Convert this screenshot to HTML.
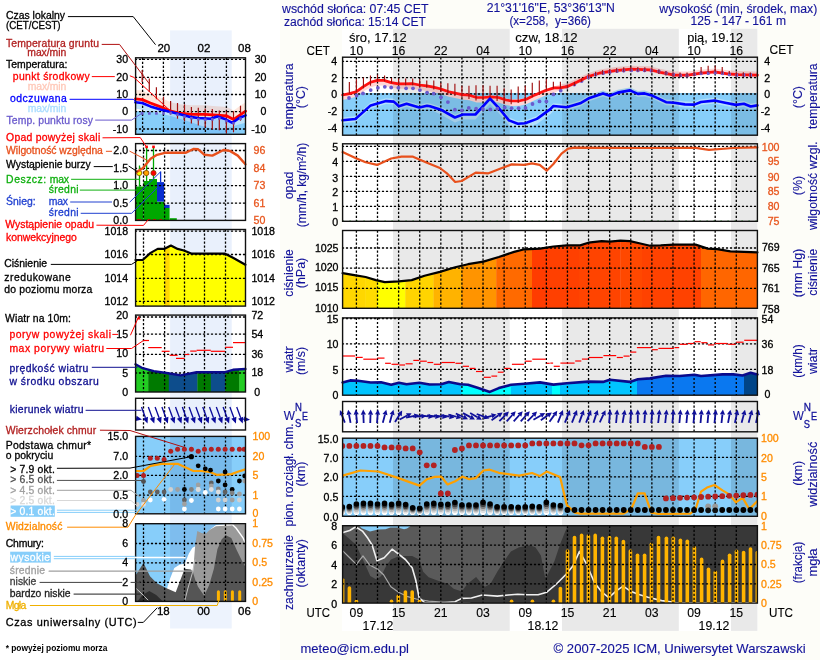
<!DOCTYPE html>
<html><head><meta charset="utf-8"><title>Meteogram</title>
<style>html,body{margin:0;padding:0;background:#fff;}svg{display:block;}text{font-family:"Liberation Sans", Arial, sans-serif;}</style></head>
<body><svg width="820" height="660" viewBox="0 0 820 660">
<rect x="0" y="0" width="820" height="660" fill="#ffffff" />
<rect x="280" y="0" width="540" height="660" fill="#fdfdf8" />
<rect x="342" y="29" width="415.8" height="602" fill="#ffffff" />
<rect x="393" y="28.8" width="116.7" height="602.1" fill="#e9e9e9" />
<rect x="562" y="28.8" width="116.8" height="602.1" fill="#e9e9e9" />
<rect x="731" y="28.8" width="26.4" height="602.1" fill="#e9e9e9" />
<rect x="170.1" y="30.4" width="61.6" height="598.1" fill="#edf3fd" />
<rect x="342.6" y="57.2" width="414.8" height="78" fill="#fff" />
<rect x="342.6" y="93" width="414.8" height="42.2" fill="#87cefa" />
<polygon points="342.6,93.5 349.5,92.1 356.1,90.3 363.4,85.1 370.7,80.7 377.3,78.9 383.9,78.9 391.2,81.1 398.5,82.3 405.9,82.3 412.9,82.2 419.3,83.5 426.6,84.4 433.3,85.6 440,87.2 448.8,90.2 462,93.1 469.3,93.7 476.6,96 483.9,96 490.5,95.3 498.5,96 505.9,98.5 511.7,99.5 519.8,99.3 526.3,97.8 535.1,93.4 545.4,89 554.1,86.4 560,84.4 566.8,83.2 577.6,78.3 588.3,73 599,69.7 615.1,67.1 631.2,65.7 650,66.3 660.7,68.9 674.2,71.6 687.6,71.6 701,69.7 714.4,68.4 727.8,70.3 738.6,71.1 757.4,71.6 757.4,77.1 738.6,76.6 727.8,75.8 714.4,73.9 701,75.2 687.6,77.1 674.2,77.1 660.7,74.4 650,71.8 631.2,71.2 615.1,72.6 599,75.2 588.3,78.5 577.6,83.8 566.8,88.7 560,89.9 554.1,92.9 545.4,95.5 535.1,99.9 526.3,104.3 519.8,105.8 511.7,106 505.9,105 498.5,102.5 490.5,101.8 483.9,102.5 476.6,102.5 469.3,100.2 462,99.6 448.8,96.7 440,93.7 433.3,92.1 426.6,90.9 419.3,90 412.9,88.7 405.9,88.8 398.5,88.8 391.2,87.6 383.9,85.4 377.3,85.4 370.7,87.2 363.4,91.6 356.1,96.8 349.5,98.6 342.6,100" fill="#ffd6d6" />
<polygon points="342.6,117.5 355.4,116.2 370.7,102.6 386.1,98.3 393.8,98.8 398.9,103.4 406.6,100.9 419.4,104.7 427,102.9 430,103.4 441.7,107.3 454.9,114.7 462.9,111.7 475.4,111.7 490,95.9 498.8,105.2 509,117.6 517.8,121 525.2,120.5 536.9,116.1 550,106.6 553.4,103.2 566.8,104.5 580.2,100.5 589.6,95.1 603,90.6 609.8,93 617.8,89.8 629.9,87.6 637.9,91.1 644.6,90.6 652.7,93 666.1,99.4 674.2,100 684.9,101.6 694.3,101.8 701,99.2 714.4,97.8 725.1,100 735.9,102.1 743.9,101 750.6,103.7 757.4,102.6 757.4,108.4 750.6,109.5 743.9,106.8 735.9,107.9 725.1,105.8 714.4,103.6 701,105 694.3,107.6 684.9,107.4 674.2,105.8 666.1,105.2 652.7,98.8 644.6,96.4 637.9,96.9 629.9,93.4 617.8,95.6 609.8,98.8 603,96.4 589.6,100.9 580.2,106.3 566.8,110.3 553.4,111 550,114.4 536.9,123.9 525.2,128.3 517.8,128.8 509,125.4 498.8,113 490,103.7 475.4,119.5 462.9,119.5 454.9,122.5 441.7,115.1 430,109.2 427,108.7 419.4,110.5 406.6,106.7 398.9,109.2 393.8,104.6 386.1,104.1 370.7,108.4 355.4,122 342.6,123.3" fill="#b4e0fb" />
<rect x="393" y="57.2" width="116.7" height="78" fill="#e9e9e9" style="mix-blend-mode:multiply"/>
<rect x="562" y="57.2" width="116.8" height="78" fill="#e9e9e9" style="mix-blend-mode:multiply"/>
<rect x="731" y="57.2" width="26.4" height="78" fill="#e9e9e9" style="mix-blend-mode:multiply"/>
<line x1="342.6" y1="61.4" x2="757.4" y2="61.4" stroke="#000" stroke-width="1.3" stroke-dasharray="2.2,1.8" stroke-dashoffset="0.7"/>
<line x1="342.6" y1="77.7" x2="757.4" y2="77.7" stroke="#000" stroke-width="1.3" stroke-dasharray="2.2,1.8" stroke-dashoffset="0.7"/>
<line x1="342.6" y1="94" x2="757.4" y2="94" stroke="#000" stroke-width="1.3" stroke-dasharray="2.2,1.8" stroke-dashoffset="0.7"/>
<line x1="342.6" y1="110.3" x2="757.4" y2="110.3" stroke="#000" stroke-width="1.3" stroke-dasharray="2.2,1.8" stroke-dashoffset="0.7"/>
<line x1="342.6" y1="126.5" x2="757.4" y2="126.5" stroke="#000" stroke-width="1.3" stroke-dasharray="2.2,1.8" stroke-dashoffset="0.7"/>
<line x1="356.4" y1="57.2" x2="356.4" y2="135.2" stroke="#000" stroke-width="1.3" stroke-dasharray="2.2,1.8"/>
<line x1="377.5" y1="57.2" x2="377.5" y2="135.2" stroke="#000" stroke-width="1.3" stroke-dasharray="2.2,1.8"/>
<line x1="398.61" y1="57.2" x2="398.61" y2="135.2" stroke="#000" stroke-width="1.3" stroke-dasharray="2.2,1.8"/>
<line x1="419.71" y1="57.2" x2="419.71" y2="135.2" stroke="#000" stroke-width="1.3" stroke-dasharray="2.2,1.8"/>
<line x1="440.82" y1="57.2" x2="440.82" y2="135.2" stroke="#000" stroke-width="1.3" stroke-dasharray="2.2,1.8"/>
<line x1="461.92" y1="57.2" x2="461.92" y2="135.2" stroke="#000" stroke-width="1.3" stroke-dasharray="2.2,1.8"/>
<line x1="483.03" y1="57.2" x2="483.03" y2="135.2" stroke="#000" stroke-width="1.3" stroke-dasharray="2.2,1.8"/>
<line x1="504.13" y1="57.2" x2="504.13" y2="135.2" stroke="#000" stroke-width="1.3" stroke-dasharray="2.2,1.8"/>
<line x1="525.24" y1="57.2" x2="525.24" y2="135.2" stroke="#000" stroke-width="1.3" stroke-dasharray="2.2,1.8"/>
<line x1="546.35" y1="57.2" x2="546.35" y2="135.2" stroke="#000" stroke-width="1.3" stroke-dasharray="2.2,1.8"/>
<line x1="567.45" y1="57.2" x2="567.45" y2="135.2" stroke="#000" stroke-width="1.3" stroke-dasharray="2.2,1.8"/>
<line x1="588.55" y1="57.2" x2="588.55" y2="135.2" stroke="#000" stroke-width="1.3" stroke-dasharray="2.2,1.8"/>
<line x1="609.66" y1="57.2" x2="609.66" y2="135.2" stroke="#000" stroke-width="1.3" stroke-dasharray="2.2,1.8"/>
<line x1="630.76" y1="57.2" x2="630.76" y2="135.2" stroke="#000" stroke-width="1.3" stroke-dasharray="2.2,1.8"/>
<line x1="651.87" y1="57.2" x2="651.87" y2="135.2" stroke="#000" stroke-width="1.3" stroke-dasharray="2.2,1.8"/>
<line x1="672.97" y1="57.2" x2="672.97" y2="135.2" stroke="#000" stroke-width="1.3" stroke-dasharray="2.2,1.8"/>
<line x1="694.08" y1="57.2" x2="694.08" y2="135.2" stroke="#000" stroke-width="1.3" stroke-dasharray="2.2,1.8"/>
<line x1="715.18" y1="57.2" x2="715.18" y2="135.2" stroke="#000" stroke-width="1.3" stroke-dasharray="2.2,1.8"/>
<line x1="736.29" y1="57.2" x2="736.29" y2="135.2" stroke="#000" stroke-width="1.3" stroke-dasharray="2.2,1.8"/>
<circle cx="560.7" cy="90.7" r="1.9" fill="#6a5acd" />
<circle cx="566.8" cy="86.7" r="1.9" fill="#6a5acd" />
<circle cx="574.3" cy="84.5" r="1.9" fill="#6a5acd" />
<circle cx="581.6" cy="81" r="1.9" fill="#6a5acd" />
<circle cx="588.3" cy="77.3" r="1.9" fill="#6a5acd" />
<circle cx="595.5" cy="74.6" r="1.9" fill="#6a5acd" />
<circle cx="603.1" cy="73" r="1.9" fill="#6a5acd" />
<circle cx="609.8" cy="71.9" r="1.9" fill="#6a5acd" />
<circle cx="617" cy="71.1" r="1.9" fill="#6a5acd" />
<circle cx="623.7" cy="70.6" r="1.9" fill="#6a5acd" />
<circle cx="631.2" cy="70.3" r="1.9" fill="#6a5acd" />
<circle cx="637.9" cy="70.3" r="1.9" fill="#6a5acd" />
<circle cx="644.6" cy="70.3" r="1.9" fill="#6a5acd" />
<circle cx="651.3" cy="70.6" r="1.9" fill="#6a5acd" />
<circle cx="658.9" cy="71.6" r="1.9" fill="#6a5acd" />
<circle cx="666.1" cy="73.2" r="1.9" fill="#6a5acd" />
<circle cx="673.4" cy="74.6" r="1.9" fill="#6a5acd" />
<circle cx="680.3" cy="75.4" r="1.9" fill="#6a5acd" />
<circle cx="687" cy="75.4" r="1.9" fill="#6a5acd" />
<circle cx="694.3" cy="74.3" r="1.9" fill="#6a5acd" />
<circle cx="701" cy="73.2" r="1.9" fill="#6a5acd" />
<circle cx="708.2" cy="73" r="1.9" fill="#6a5acd" />
<circle cx="715.2" cy="72.4" r="1.9" fill="#6a5acd" />
<circle cx="722.5" cy="73.2" r="1.9" fill="#6a5acd" />
<circle cx="729.4" cy="74.3" r="1.9" fill="#6a5acd" />
<circle cx="736.7" cy="74.9" r="1.9" fill="#6a5acd" />
<circle cx="743.9" cy="74.9" r="1.9" fill="#6a5acd" />
<circle cx="750.6" cy="75.1" r="1.9" fill="#6a5acd" />
<polyline points="342.6,95 349.5,93.6 356.1,91.8 363.4,86.6 370.7,82.2 377.3,80.4 383.9,80.4 391.2,82.6 398.5,83.8 405.9,83.8 412.9,83.7 419.3,85 426.6,85.9 433.3,87.1 440,88.7 448.8,91.7 462,94.6 469.3,95.2 476.6,97.5 483.9,97.5 490.5,96.8 498.5,97.5 505.9,100 511.7,101 519.8,100.8 526.3,99.3 535.1,94.9 545.4,90.5 554.1,87.9 560,87.9 566.8,86.7 577.6,81.8 588.3,76.5 599,73.2 615.1,70.6 631.2,69.2 650,69.8 660.7,72.4 674.2,75.1 687.6,75.1 701,73.2 714.4,71.9 727.8,73.8 738.6,74.6 757.4,75.1" fill="none" stroke="#ff1010" stroke-width="2.7" stroke-linejoin="round" stroke-linecap="round" />
<ellipse cx="588.3" cy="77.3" rx="1.5" ry="2" fill="#7060d8"/>
<ellipse cx="595.5" cy="74.6" rx="1.5" ry="2" fill="#7060d8"/>
<ellipse cx="603.1" cy="73" rx="1.5" ry="2" fill="#7060d8"/>
<ellipse cx="609.8" cy="71.9" rx="1.5" ry="2" fill="#7060d8"/>
<ellipse cx="617" cy="71.1" rx="1.5" ry="2" fill="#7060d8"/>
<ellipse cx="623.7" cy="70.6" rx="1.5" ry="2" fill="#7060d8"/>
<ellipse cx="631.2" cy="70.3" rx="1.5" ry="2" fill="#7060d8"/>
<ellipse cx="637.9" cy="70.3" rx="1.5" ry="2" fill="#7060d8"/>
<ellipse cx="644.6" cy="70.3" rx="1.5" ry="2" fill="#7060d8"/>
<ellipse cx="651.3" cy="70.6" rx="1.5" ry="2" fill="#7060d8"/>
<ellipse cx="658.9" cy="71.6" rx="1.5" ry="2" fill="#7060d8"/>
<ellipse cx="666.1" cy="73.2" rx="1.5" ry="2" fill="#7060d8"/>
<ellipse cx="673.4" cy="74.6" rx="1.5" ry="2" fill="#7060d8"/>
<ellipse cx="680.3" cy="75.4" rx="1.5" ry="2" fill="#7060d8"/>
<ellipse cx="687" cy="75.4" rx="1.5" ry="2" fill="#7060d8"/>
<ellipse cx="694.3" cy="74.3" rx="1.5" ry="2" fill="#7060d8"/>
<ellipse cx="701" cy="73.2" rx="1.5" ry="2" fill="#7060d8"/>
<ellipse cx="708.2" cy="73" rx="1.5" ry="2" fill="#7060d8"/>
<ellipse cx="715.2" cy="72.4" rx="1.5" ry="2" fill="#7060d8"/>
<ellipse cx="722.5" cy="73.2" rx="1.5" ry="2" fill="#7060d8"/>
<ellipse cx="729.4" cy="74.3" rx="1.5" ry="2" fill="#7060d8"/>
<ellipse cx="736.7" cy="74.9" rx="1.5" ry="2" fill="#7060d8"/>
<ellipse cx="743.9" cy="74.9" rx="1.5" ry="2" fill="#7060d8"/>
<ellipse cx="750.6" cy="75.1" rx="1.5" ry="2" fill="#7060d8"/>
<line x1="349.36" y1="81.9" x2="349.36" y2="93.4" stroke="#a01010" stroke-width="1.15" />
<line x1="356.4" y1="79.3" x2="356.4" y2="92.1" stroke="#a01010" stroke-width="1.15" />
<line x1="363.44" y1="77.5" x2="363.44" y2="88.3" stroke="#a01010" stroke-width="1.15" />
<line x1="370.47" y1="75.5" x2="370.47" y2="85.7" stroke="#a01010" stroke-width="1.15" />
<line x1="377.5" y1="74.7" x2="377.5" y2="80.6" stroke="#a01010" stroke-width="1.15" />
<line x1="384.54" y1="75.5" x2="384.54" y2="81.1" stroke="#a01010" stroke-width="1.15" />
<line x1="391.57" y1="78" x2="391.57" y2="83.2" stroke="#a01010" stroke-width="1.15" />
<line x1="398.61" y1="78.6" x2="398.61" y2="84.4" stroke="#a01010" stroke-width="1.15" />
<line x1="405.64" y1="78.6" x2="405.64" y2="85.2" stroke="#a01010" stroke-width="1.15" />
<line x1="412.68" y1="78.6" x2="412.68" y2="85.2" stroke="#a01010" stroke-width="1.15" />
<line x1="419.71" y1="79.3" x2="419.71" y2="87" stroke="#a01010" stroke-width="1.15" />
<line x1="426.75" y1="80.6" x2="426.75" y2="87.8" stroke="#a01010" stroke-width="1.15" />
<line x1="433.78" y1="80.6" x2="433.78" y2="89.6" stroke="#a01010" stroke-width="1.15" />
<line x1="440.82" y1="82.7" x2="440.82" y2="92.1" stroke="#a01010" stroke-width="1.15" />
<line x1="447.85" y1="83.2" x2="447.85" y2="94.7" stroke="#a01010" stroke-width="1.15" />
<line x1="454.89" y1="83.7" x2="454.89" y2="96" stroke="#a01010" stroke-width="1.15" />
<line x1="461.92" y1="85.7" x2="461.92" y2="97.3" stroke="#a01010" stroke-width="1.15" />
<line x1="468.96" y1="85.7" x2="468.96" y2="99" stroke="#a01010" stroke-width="1.15" />
<line x1="476" y1="85.2" x2="476" y2="100.6" stroke="#a01010" stroke-width="1.15" />
<line x1="483.03" y1="85.2" x2="483.03" y2="99.8" stroke="#a01010" stroke-width="1.15" />
<line x1="490.06" y1="85.7" x2="490.06" y2="99" stroke="#a01010" stroke-width="1.15" />
<line x1="497.1" y1="85.7" x2="497.1" y2="101.1" stroke="#a01010" stroke-width="1.15" />
<line x1="504.13" y1="88.3" x2="504.13" y2="103.7" stroke="#a01010" stroke-width="1.15" />
<line x1="511.17" y1="89.6" x2="511.17" y2="104.2" stroke="#a01010" stroke-width="1.15" />
<line x1="518.2" y1="86.5" x2="518.2" y2="103.1" stroke="#a01010" stroke-width="1.15" />
<line x1="525.24" y1="85.7" x2="525.24" y2="101.6" stroke="#a01010" stroke-width="1.15" />
<line x1="532.27" y1="82.7" x2="532.27" y2="97.3" stroke="#a01010" stroke-width="1.15" />
<line x1="539.31" y1="80.6" x2="539.31" y2="93.4" stroke="#a01010" stroke-width="1.15" />
<line x1="546.35" y1="79.3" x2="546.35" y2="90.3" stroke="#a01010" stroke-width="1.15" />
<line x1="553.38" y1="81.8" x2="553.38" y2="88.5" stroke="#a01010" stroke-width="1.15" />
<line x1="560.41" y1="81.8" x2="560.41" y2="88.5" stroke="#a01010" stroke-width="1.15" />
<line x1="567.45" y1="84.5" x2="567.45" y2="88.5" stroke="#a01010" stroke-width="1.15" />
<line x1="574.49" y1="81.8" x2="574.49" y2="85.9" stroke="#a01010" stroke-width="1.15" />
<line x1="581.52" y1="78.6" x2="581.52" y2="81.8" stroke="#a01010" stroke-width="1.15" />
<line x1="588.55" y1="73.92" x2="588.55" y2="78.42" stroke="#a01010" stroke-width="1.15" />
<line x1="595.59" y1="71.75" x2="595.59" y2="76.25" stroke="#a01010" stroke-width="1.15" />
<line x1="602.62" y1="70.11" x2="602.62" y2="74.61" stroke="#a01010" stroke-width="1.15" />
<line x1="609.66" y1="68.98" x2="609.66" y2="73.48" stroke="#a01010" stroke-width="1.15" />
<line x1="616.69" y1="67.96" x2="616.69" y2="72.46" stroke="#a01010" stroke-width="1.15" />
<line x1="623.73" y1="67.35" x2="623.73" y2="71.85" stroke="#a01010" stroke-width="1.15" />
<line x1="630.76" y1="66.74" x2="630.76" y2="71.24" stroke="#a01010" stroke-width="1.15" />
<line x1="637.8" y1="66.91" x2="637.8" y2="71.41" stroke="#a01010" stroke-width="1.15" />
<line x1="644.84" y1="67.14" x2="644.84" y2="71.64" stroke="#a01010" stroke-width="1.15" />
<line x1="651.87" y1="67.75" x2="651.87" y2="72.25" stroke="#a01010" stroke-width="1.15" />
<line x1="658.9" y1="69.46" x2="658.9" y2="73.96" stroke="#a01010" stroke-width="1.15" />
<line x1="665.94" y1="70.95" x2="665.94" y2="75.45" stroke="#a01010" stroke-width="1.15" />
<line x1="672.97" y1="72.35" x2="672.97" y2="76.85" stroke="#a01010" stroke-width="1.15" />
<line x1="680.01" y1="72.6" x2="680.01" y2="77.1" stroke="#a01010" stroke-width="1.15" />
<line x1="687.04" y1="72.6" x2="687.04" y2="77.1" stroke="#a01010" stroke-width="1.15" />
<line x1="694.08" y1="71.68" x2="694.08" y2="76.18" stroke="#a01010" stroke-width="1.15" />
<line x1="701.12" y1="67.1" x2="701.12" y2="73.8" stroke="#a01010" stroke-width="1.15" />
<line x1="708.15" y1="65.7" x2="708.15" y2="72.4" stroke="#a01010" stroke-width="1.15" />
<line x1="715.18" y1="65.7" x2="715.18" y2="72.4" stroke="#a01010" stroke-width="1.15" />
<line x1="722.22" y1="67.1" x2="722.22" y2="73.8" stroke="#a01010" stroke-width="1.15" />
<line x1="729.25" y1="71.1" x2="729.25" y2="74.3" stroke="#a01010" stroke-width="1.15" />
<line x1="736.29" y1="71.93" x2="736.29" y2="76.43" stroke="#a01010" stroke-width="1.15" />
<line x1="743.33" y1="72.23" x2="743.33" y2="76.73" stroke="#a01010" stroke-width="1.15" />
<line x1="750.36" y1="72.41" x2="750.36" y2="76.91" stroke="#a01010" stroke-width="1.15" />
<line x1="757.39" y1="72.6" x2="757.39" y2="77.1" stroke="#a01010" stroke-width="1.15" />
<polyline points="342.6,120.3 355.4,119 370.7,105.4 386.1,101.1 393.8,101.6 398.9,106.2 406.6,103.7 419.4,107.5 427,105.7 430,106.2 441.7,110.1 454.9,117.5 462.9,114.5 475.4,114.5 490,98.7 498.8,108 509,120.4 517.8,123.8 525.2,123.3 536.9,118.9 550,109.4 553.4,106 566.8,107.3 580.2,103.3 589.6,97.9 603,93.4 609.8,95.8 617.8,92.6 629.9,90.4 637.9,93.9 644.6,93.4 652.7,95.8 666.1,102.2 674.2,102.8 684.9,104.4 694.3,104.6 701,102 714.4,100.6 725.1,102.8 735.9,104.9 743.9,103.8 750.6,106.5 757.4,105.4" fill="none" stroke="#0000ff" stroke-width="2.6" stroke-linejoin="round" stroke-linecap="round" />
<circle cx="349" cy="98" r="1.9" fill="#6a5acd" />
<circle cx="356.6" cy="95.5" r="1.9" fill="#6a5acd" />
<circle cx="363" cy="93.4" r="1.9" fill="#6a5acd" />
<circle cx="370.7" cy="90.1" r="1.9" fill="#6a5acd" />
<circle cx="377.9" cy="87.8" r="1.9" fill="#6a5acd" />
<circle cx="384.8" cy="86.8" r="1.9" fill="#6a5acd" />
<circle cx="391.2" cy="87.5" r="1.9" fill="#6a5acd" />
<circle cx="398.4" cy="87.8" r="1.9" fill="#6a5acd" />
<circle cx="406.1" cy="88.3" r="1.9" fill="#6a5acd" />
<circle cx="413" cy="88.3" r="1.9" fill="#6a5acd" />
<circle cx="419.9" cy="90.1" r="1.9" fill="#6a5acd" />
<circle cx="427.1" cy="92.6" r="1.9" fill="#6a5acd" />
<circle cx="433.7" cy="93.7" r="1.9" fill="#6a5acd" />
<circle cx="441" cy="97.3" r="1.9" fill="#6a5acd" />
<circle cx="447.9" cy="102.1" r="1.9" fill="#6a5acd" />
<circle cx="454.9" cy="109.7" r="1.9" fill="#6a5acd" />
<circle cx="461.9" cy="110.4" r="1.9" fill="#6a5acd" />
<circle cx="468.8" cy="107.9" r="1.9" fill="#6a5acd" />
<circle cx="476.1" cy="108.7" r="1.9" fill="#6a5acd" />
<circle cx="483" cy="109" r="1.9" fill="#6a5acd" />
<circle cx="490.3" cy="109.4" r="1.9" fill="#6a5acd" />
<circle cx="497.3" cy="108.7" r="1.9" fill="#6a5acd" />
<circle cx="504.7" cy="107.5" r="1.9" fill="#6a5acd" />
<circle cx="511.6" cy="108.2" r="1.9" fill="#6a5acd" />
<circle cx="518.6" cy="108.2" r="1.9" fill="#6a5acd" />
<circle cx="525.5" cy="107.9" r="1.9" fill="#6a5acd" />
<circle cx="532.5" cy="104" r="1.9" fill="#6a5acd" />
<circle cx="539.5" cy="101.4" r="1.9" fill="#6a5acd" />
<circle cx="546.4" cy="101.4" r="1.9" fill="#6a5acd" />
<circle cx="553.4" cy="94.4" r="1.9" fill="#6a5acd" />
<rect x="342.6" y="57.2" width="414.8" height="78" fill="none" stroke="#111" stroke-width="1.4"/>
<rect x="342.6" y="143.8" width="414.8" height="77.5" fill="#fff" />
<rect x="393" y="143.8" width="116.7" height="77.5" fill="#e9e9e9" style="mix-blend-mode:multiply"/>
<rect x="562" y="143.8" width="116.8" height="77.5" fill="#e9e9e9" style="mix-blend-mode:multiply"/>
<rect x="731" y="143.8" width="26.4" height="77.5" fill="#e9e9e9" style="mix-blend-mode:multiply"/>
<line x1="342.6" y1="146.3" x2="757.4" y2="146.3" stroke="#000" stroke-width="1.3" stroke-dasharray="2.2,1.8" stroke-dashoffset="0.7"/>
<line x1="342.6" y1="161.3" x2="757.4" y2="161.3" stroke="#000" stroke-width="1.3" stroke-dasharray="2.2,1.8" stroke-dashoffset="0.7"/>
<line x1="342.6" y1="176.3" x2="757.4" y2="176.3" stroke="#000" stroke-width="1.3" stroke-dasharray="2.2,1.8" stroke-dashoffset="0.7"/>
<line x1="342.6" y1="191.3" x2="757.4" y2="191.3" stroke="#000" stroke-width="1.3" stroke-dasharray="2.2,1.8" stroke-dashoffset="0.7"/>
<line x1="342.6" y1="206.3" x2="757.4" y2="206.3" stroke="#000" stroke-width="1.3" stroke-dasharray="2.2,1.8" stroke-dashoffset="0.7"/>
<line x1="356.4" y1="143.8" x2="356.4" y2="221.3" stroke="#000" stroke-width="1.3" stroke-dasharray="2.2,1.8"/>
<line x1="377.5" y1="143.8" x2="377.5" y2="221.3" stroke="#000" stroke-width="1.3" stroke-dasharray="2.2,1.8"/>
<line x1="398.61" y1="143.8" x2="398.61" y2="221.3" stroke="#000" stroke-width="1.3" stroke-dasharray="2.2,1.8"/>
<line x1="419.71" y1="143.8" x2="419.71" y2="221.3" stroke="#000" stroke-width="1.3" stroke-dasharray="2.2,1.8"/>
<line x1="440.82" y1="143.8" x2="440.82" y2="221.3" stroke="#000" stroke-width="1.3" stroke-dasharray="2.2,1.8"/>
<line x1="461.92" y1="143.8" x2="461.92" y2="221.3" stroke="#000" stroke-width="1.3" stroke-dasharray="2.2,1.8"/>
<line x1="483.03" y1="143.8" x2="483.03" y2="221.3" stroke="#000" stroke-width="1.3" stroke-dasharray="2.2,1.8"/>
<line x1="504.13" y1="143.8" x2="504.13" y2="221.3" stroke="#000" stroke-width="1.3" stroke-dasharray="2.2,1.8"/>
<line x1="525.24" y1="143.8" x2="525.24" y2="221.3" stroke="#000" stroke-width="1.3" stroke-dasharray="2.2,1.8"/>
<line x1="546.35" y1="143.8" x2="546.35" y2="221.3" stroke="#000" stroke-width="1.3" stroke-dasharray="2.2,1.8"/>
<line x1="567.45" y1="143.8" x2="567.45" y2="221.3" stroke="#000" stroke-width="1.3" stroke-dasharray="2.2,1.8"/>
<line x1="588.55" y1="143.8" x2="588.55" y2="221.3" stroke="#000" stroke-width="1.3" stroke-dasharray="2.2,1.8"/>
<line x1="609.66" y1="143.8" x2="609.66" y2="221.3" stroke="#000" stroke-width="1.3" stroke-dasharray="2.2,1.8"/>
<line x1="630.76" y1="143.8" x2="630.76" y2="221.3" stroke="#000" stroke-width="1.3" stroke-dasharray="2.2,1.8"/>
<line x1="651.87" y1="143.8" x2="651.87" y2="221.3" stroke="#000" stroke-width="1.3" stroke-dasharray="2.2,1.8"/>
<line x1="672.97" y1="143.8" x2="672.97" y2="221.3" stroke="#000" stroke-width="1.3" stroke-dasharray="2.2,1.8"/>
<line x1="694.08" y1="143.8" x2="694.08" y2="221.3" stroke="#000" stroke-width="1.3" stroke-dasharray="2.2,1.8"/>
<line x1="715.18" y1="143.8" x2="715.18" y2="221.3" stroke="#000" stroke-width="1.3" stroke-dasharray="2.2,1.8"/>
<line x1="736.29" y1="143.8" x2="736.29" y2="221.3" stroke="#000" stroke-width="1.3" stroke-dasharray="2.2,1.8"/>
<line x1="342.6" y1="220.5" x2="757.4" y2="220.5" stroke="#20a020" stroke-width="1" stroke-dasharray="1,6" opacity="0.6"/>
<polyline points="342.6,152.1 355.4,158 365.6,162.3 377.1,164.9 391.2,158.5 401.5,156.7 413,156.7 427,162.8 439.9,168 447.6,173.9 455.2,182 461.6,181 475.7,172.6 488.5,173.3 501.3,168.2 511.6,164.4 524.4,164.9 532,163.4 539.7,164.9 546.7,170.7 553.4,164 561.5,153.6 568.2,148.7 574.9,147.7 600,147.9 640,148 695.6,147.9 709,149.8 733.2,148 757.4,147.4" fill="none" stroke="#e8501c" stroke-width="2.2" stroke-linejoin="round" stroke-linecap="round" />
<rect x="342.6" y="143.8" width="414.8" height="77.5" fill="none" stroke="#111" stroke-width="1.4"/>
<rect x="342.6" y="230.5" width="414.8" height="77.8" fill="#fff" />
<rect x="393" y="230.5" width="116.7" height="77.8" fill="#e9e9e9" style="mix-blend-mode:multiply"/>
<rect x="562" y="230.5" width="116.8" height="77.8" fill="#e9e9e9" style="mix-blend-mode:multiply"/>
<rect x="731" y="230.5" width="26.4" height="77.8" fill="#e9e9e9" style="mix-blend-mode:multiply"/>
<clipPath id="prc"><polygon points="342.6,273.1 352.8,274.9 365.6,277 375.9,280.1 384.8,282.1 398.9,281.3 411.7,280.1 424.5,275.7 439.9,271.9 455.2,267.3 468,264.2 483.4,261.6 498.8,257 514.1,251.9 524.4,249.3 540,248.6 553.4,246.5 566.8,245.4 580.2,245.4 588.3,242.7 601.7,241.1 609.8,241.6 620.5,240.6 629.9,241.1 639.3,243.2 650,245.7 660.7,245.4 674.2,244.6 695.6,244.6 707.7,248.6 717.1,249.1 730.5,251.3 757.4,252.4 757.4,308.3 342.6,308.3"/></clipPath>
<g clip-path="url(#prc)">
<rect x="342.6" y="230.5" width="23.3" height="77.8" fill="#ffd700" />
<rect x="365.6" y="230.5" width="11.7" height="77.8" fill="#ffdc00" />
<rect x="377" y="230.5" width="28.6" height="77.8" fill="#ffff00" />
<rect x="405.3" y="230.5" width="28.5" height="77.8" fill="#ffd400" />
<rect x="433.5" y="230.5" width="28.4" height="77.8" fill="#ffb300" />
<rect x="461.6" y="230.5" width="34.9" height="77.8" fill="#ff9400" />
<rect x="496.2" y="230.5" width="36.1" height="77.8" fill="#ff6a00" />
<rect x="532" y="230.5" width="18.3" height="77.8" fill="#ff3c00" />
<rect x="550" y="230.5" width="29.3" height="77.8" fill="#ff4000" />
<rect x="579" y="230.5" width="41.8" height="77.8" fill="#ff4400" />
<rect x="620.5" y="230.5" width="21.8" height="77.8" fill="#ff4800" />
<rect x="642" y="230.5" width="59.3" height="77.8" fill="#ff4200" />
<rect x="701" y="230.5" width="56.7" height="77.8" fill="#ff6600" />
</g>
<line x1="342.6" y1="248" x2="757.4" y2="248" stroke="#000" stroke-width="1.3" stroke-dasharray="2.2,1.8" stroke-dashoffset="0.7"/>
<line x1="342.6" y1="268.2" x2="757.4" y2="268.2" stroke="#000" stroke-width="1.3" stroke-dasharray="2.2,1.8" stroke-dashoffset="0.7"/>
<line x1="342.6" y1="288.4" x2="757.4" y2="288.4" stroke="#000" stroke-width="1.3" stroke-dasharray="2.2,1.8" stroke-dashoffset="0.7"/>
<line x1="356.4" y1="230.5" x2="356.4" y2="308.3" stroke="#000" stroke-width="1.3" stroke-dasharray="2.2,1.8"/>
<line x1="377.5" y1="230.5" x2="377.5" y2="308.3" stroke="#000" stroke-width="1.3" stroke-dasharray="2.2,1.8"/>
<line x1="398.61" y1="230.5" x2="398.61" y2="308.3" stroke="#000" stroke-width="1.3" stroke-dasharray="2.2,1.8"/>
<line x1="419.71" y1="230.5" x2="419.71" y2="308.3" stroke="#000" stroke-width="1.3" stroke-dasharray="2.2,1.8"/>
<line x1="440.82" y1="230.5" x2="440.82" y2="308.3" stroke="#000" stroke-width="1.3" stroke-dasharray="2.2,1.8"/>
<line x1="461.92" y1="230.5" x2="461.92" y2="308.3" stroke="#000" stroke-width="1.3" stroke-dasharray="2.2,1.8"/>
<line x1="483.03" y1="230.5" x2="483.03" y2="308.3" stroke="#000" stroke-width="1.3" stroke-dasharray="2.2,1.8"/>
<line x1="504.13" y1="230.5" x2="504.13" y2="308.3" stroke="#000" stroke-width="1.3" stroke-dasharray="2.2,1.8"/>
<line x1="525.24" y1="230.5" x2="525.24" y2="308.3" stroke="#000" stroke-width="1.3" stroke-dasharray="2.2,1.8"/>
<line x1="546.35" y1="230.5" x2="546.35" y2="308.3" stroke="#000" stroke-width="1.3" stroke-dasharray="2.2,1.8"/>
<line x1="567.45" y1="230.5" x2="567.45" y2="308.3" stroke="#000" stroke-width="1.3" stroke-dasharray="2.2,1.8"/>
<line x1="588.55" y1="230.5" x2="588.55" y2="308.3" stroke="#000" stroke-width="1.3" stroke-dasharray="2.2,1.8"/>
<line x1="609.66" y1="230.5" x2="609.66" y2="308.3" stroke="#000" stroke-width="1.3" stroke-dasharray="2.2,1.8"/>
<line x1="630.76" y1="230.5" x2="630.76" y2="308.3" stroke="#000" stroke-width="1.3" stroke-dasharray="2.2,1.8"/>
<line x1="651.87" y1="230.5" x2="651.87" y2="308.3" stroke="#000" stroke-width="1.3" stroke-dasharray="2.2,1.8"/>
<line x1="672.97" y1="230.5" x2="672.97" y2="308.3" stroke="#000" stroke-width="1.3" stroke-dasharray="2.2,1.8"/>
<line x1="694.08" y1="230.5" x2="694.08" y2="308.3" stroke="#000" stroke-width="1.3" stroke-dasharray="2.2,1.8"/>
<line x1="715.18" y1="230.5" x2="715.18" y2="308.3" stroke="#000" stroke-width="1.3" stroke-dasharray="2.2,1.8"/>
<line x1="736.29" y1="230.5" x2="736.29" y2="308.3" stroke="#000" stroke-width="1.3" stroke-dasharray="2.2,1.8"/>
<polyline points="342.6,273.1 352.8,274.9 365.6,277 375.9,280.1 384.8,282.1 398.9,281.3 411.7,280.1 424.5,275.7 439.9,271.9 455.2,267.3 468,264.2 483.4,261.6 498.8,257 514.1,251.9 524.4,249.3 540,248.6 553.4,246.5 566.8,245.4 580.2,245.4 588.3,242.7 601.7,241.1 609.8,241.6 620.5,240.6 629.9,241.1 639.3,243.2 650,245.7 660.7,245.4 674.2,244.6 695.6,244.6 707.7,248.6 717.1,249.1 730.5,251.3 757.4,252.4" fill="none" stroke="#000" stroke-width="2.2" stroke-linejoin="round" stroke-linecap="round" />
<rect x="342.6" y="230.5" width="414.8" height="77.8" fill="none" stroke="#111" stroke-width="1.4"/>
<rect x="342.6" y="317.9" width="414.8" height="77.3" fill="#fff" />
<rect x="393" y="317.9" width="116.7" height="77.3" fill="#e9e9e9" style="mix-blend-mode:multiply"/>
<rect x="562" y="317.9" width="116.8" height="77.3" fill="#e9e9e9" style="mix-blend-mode:multiply"/>
<rect x="731" y="317.9" width="26.4" height="77.3" fill="#e9e9e9" style="mix-blend-mode:multiply"/>
<clipPath id="wc"><polygon points="342.6,382.5 350.2,380.4 357.9,380.7 370.7,382.5 381,382.2 391.2,384.8 398.9,382.7 406.6,384.3 419.4,382.7 429.6,384.5 441.2,384.3 448.8,382 460.4,384.3 468,384.8 478.3,388.1 489.8,391.9 498.8,388.1 511.1,384.8 524.4,383.8 540,382.4 553.4,384.6 566.8,383.2 588.3,381.6 603,381.9 609.8,379.8 629.9,381.9 637.9,379.2 650,378.4 666.1,375.7 679.5,376 694.3,374.7 701,376 722.5,374.4 733.2,374.4 742.6,375.5 750.6,372.8 757.4,374.4 757.4,395.2 342.6,395.2"/></clipPath>
<g clip-path="url(#wc)">
<rect x="342.6" y="317.9" width="119.3" height="77.3" fill="#00c4ff" />
<rect x="461.6" y="317.9" width="49.7" height="77.3" fill="#00ffff" />
<rect x="511" y="317.9" width="41.3" height="77.3" fill="#00c4ff" />
<rect x="552" y="317.9" width="8.3" height="77.3" fill="#00ffff" />
<rect x="560" y="317.9" width="77.3" height="77.3" fill="#00c4ff" />
<rect x="637" y="317.9" width="107.3" height="77.3" fill="#0a78f0" />
<rect x="744" y="317.9" width="13.7" height="77.3" fill="#004488" />
</g>
<line x1="342.6" y1="318.5" x2="757.4" y2="318.5" stroke="#000" stroke-width="1.3" stroke-dasharray="2.2,1.8" stroke-dashoffset="0.7"/>
<line x1="342.6" y1="343.8" x2="757.4" y2="343.8" stroke="#000" stroke-width="1.3" stroke-dasharray="2.2,1.8" stroke-dashoffset="0.7"/>
<line x1="342.6" y1="369.4" x2="757.4" y2="369.4" stroke="#000" stroke-width="1.3" stroke-dasharray="2.2,1.8" stroke-dashoffset="0.7"/>
<line x1="356.4" y1="317.9" x2="356.4" y2="395.2" stroke="#000" stroke-width="1.3" stroke-dasharray="2.2,1.8"/>
<line x1="377.5" y1="317.9" x2="377.5" y2="395.2" stroke="#000" stroke-width="1.3" stroke-dasharray="2.2,1.8"/>
<line x1="398.61" y1="317.9" x2="398.61" y2="395.2" stroke="#000" stroke-width="1.3" stroke-dasharray="2.2,1.8"/>
<line x1="419.71" y1="317.9" x2="419.71" y2="395.2" stroke="#000" stroke-width="1.3" stroke-dasharray="2.2,1.8"/>
<line x1="440.82" y1="317.9" x2="440.82" y2="395.2" stroke="#000" stroke-width="1.3" stroke-dasharray="2.2,1.8"/>
<line x1="461.92" y1="317.9" x2="461.92" y2="395.2" stroke="#000" stroke-width="1.3" stroke-dasharray="2.2,1.8"/>
<line x1="483.03" y1="317.9" x2="483.03" y2="395.2" stroke="#000" stroke-width="1.3" stroke-dasharray="2.2,1.8"/>
<line x1="504.13" y1="317.9" x2="504.13" y2="395.2" stroke="#000" stroke-width="1.3" stroke-dasharray="2.2,1.8"/>
<line x1="525.24" y1="317.9" x2="525.24" y2="395.2" stroke="#000" stroke-width="1.3" stroke-dasharray="2.2,1.8"/>
<line x1="546.35" y1="317.9" x2="546.35" y2="395.2" stroke="#000" stroke-width="1.3" stroke-dasharray="2.2,1.8"/>
<line x1="567.45" y1="317.9" x2="567.45" y2="395.2" stroke="#000" stroke-width="1.3" stroke-dasharray="2.2,1.8"/>
<line x1="588.55" y1="317.9" x2="588.55" y2="395.2" stroke="#000" stroke-width="1.3" stroke-dasharray="2.2,1.8"/>
<line x1="609.66" y1="317.9" x2="609.66" y2="395.2" stroke="#000" stroke-width="1.3" stroke-dasharray="2.2,1.8"/>
<line x1="630.76" y1="317.9" x2="630.76" y2="395.2" stroke="#000" stroke-width="1.3" stroke-dasharray="2.2,1.8"/>
<line x1="651.87" y1="317.9" x2="651.87" y2="395.2" stroke="#000" stroke-width="1.3" stroke-dasharray="2.2,1.8"/>
<line x1="672.97" y1="317.9" x2="672.97" y2="395.2" stroke="#000" stroke-width="1.3" stroke-dasharray="2.2,1.8"/>
<line x1="694.08" y1="317.9" x2="694.08" y2="395.2" stroke="#000" stroke-width="1.3" stroke-dasharray="2.2,1.8"/>
<line x1="715.18" y1="317.9" x2="715.18" y2="395.2" stroke="#000" stroke-width="1.3" stroke-dasharray="2.2,1.8"/>
<line x1="736.29" y1="317.9" x2="736.29" y2="395.2" stroke="#000" stroke-width="1.3" stroke-dasharray="2.2,1.8"/>
<line x1="342.9" y1="356" x2="355.1" y2="356" stroke="#ff0000" stroke-width="1.2" />
<line x1="355.7" y1="357.4" x2="362.7" y2="357.4" stroke="#ff0000" stroke-width="1.2" />
<line x1="363.3" y1="359.2" x2="376.8" y2="359.2" stroke="#ff0000" stroke-width="1.2" />
<line x1="377.4" y1="358.1" x2="384.5" y2="358.1" stroke="#ff0000" stroke-width="1.2" />
<line x1="385.1" y1="363.3" x2="390.9" y2="363.3" stroke="#ff0000" stroke-width="1.2" />
<line x1="391.5" y1="364.3" x2="398.6" y2="364.3" stroke="#ff0000" stroke-width="1.2" />
<line x1="399.2" y1="365" x2="405" y2="365" stroke="#ff0000" stroke-width="1.2" />
<line x1="405.6" y1="363.8" x2="412.7" y2="363.8" stroke="#ff0000" stroke-width="1.2" />
<line x1="413.3" y1="360.4" x2="419.1" y2="360.4" stroke="#ff0000" stroke-width="1.2" />
<line x1="419.7" y1="361.2" x2="426.8" y2="361.2" stroke="#ff0000" stroke-width="1.2" />
<line x1="427.4" y1="362.5" x2="433.2" y2="362.5" stroke="#ff0000" stroke-width="1.2" />
<line x1="433.8" y1="364.3" x2="440.9" y2="364.3" stroke="#ff0000" stroke-width="1.2" />
<line x1="441.5" y1="362.5" x2="454.9" y2="362.5" stroke="#ff0000" stroke-width="1.2" />
<line x1="455.5" y1="363.3" x2="461.3" y2="363.3" stroke="#ff0000" stroke-width="1.2" />
<line x1="462.7" y1="366.3" x2="469" y2="366.3" stroke="#ff0000" stroke-width="1.2" />
<line x1="469.6" y1="368.4" x2="475.4" y2="368.4" stroke="#ff0000" stroke-width="1.2" />
<line x1="476" y1="371.5" x2="482.6" y2="371.5" stroke="#ff0000" stroke-width="1.2" />
<line x1="483.7" y1="377.3" x2="490.8" y2="377.3" stroke="#ff0000" stroke-width="1.2" />
<line x1="491.4" y1="376.1" x2="497.2" y2="376.1" stroke="#ff0000" stroke-width="1.2" />
<line x1="497.8" y1="372.2" x2="503.6" y2="372.2" stroke="#ff0000" stroke-width="1.2" />
<line x1="504.2" y1="368.4" x2="510.8" y2="368.4" stroke="#ff0000" stroke-width="1.2" />
<line x1="511.9" y1="364.3" x2="524.1" y2="364.3" stroke="#ff0000" stroke-width="1.2" />
<line x1="524.7" y1="361.2" x2="531.7" y2="361.2" stroke="#ff0000" stroke-width="1.2" />
<line x1="532.3" y1="359.2" x2="545.8" y2="359.2" stroke="#ff0000" stroke-width="1.2" />
<line x1="546.4" y1="363.3" x2="549.7" y2="363.3" stroke="#ff0000" stroke-width="1.2" />
<line x1="550.3" y1="363.1" x2="553.1" y2="363.1" stroke="#ff0000" stroke-width="1.2" />
<line x1="553.7" y1="366.3" x2="559.8" y2="366.3" stroke="#ff0000" stroke-width="1.2" />
<line x1="560.4" y1="363.1" x2="574.6" y2="363.1" stroke="#ff0000" stroke-width="1.2" />
<line x1="575.2" y1="361" x2="581.3" y2="361" stroke="#ff0000" stroke-width="1.2" />
<line x1="581.9" y1="359.1" x2="588" y2="359.1" stroke="#ff0000" stroke-width="1.2" />
<line x1="588.6" y1="357.5" x2="602.8" y2="357.5" stroke="#ff0000" stroke-width="1.2" />
<line x1="603.4" y1="355.6" x2="616.2" y2="355.6" stroke="#ff0000" stroke-width="1.2" />
<line x1="616.8" y1="357.5" x2="622.9" y2="357.5" stroke="#ff0000" stroke-width="1.2" />
<line x1="623.5" y1="356.1" x2="629.6" y2="356.1" stroke="#ff0000" stroke-width="1.2" />
<line x1="630.2" y1="352.1" x2="636.3" y2="352.1" stroke="#ff0000" stroke-width="1.2" />
<line x1="636.9" y1="347.6" x2="651.1" y2="347.6" stroke="#ff0000" stroke-width="1.2" />
<line x1="651.7" y1="349.7" x2="657.8" y2="349.7" stroke="#ff0000" stroke-width="1.2" />
<line x1="658.4" y1="348.4" x2="673.9" y2="348.4" stroke="#ff0000" stroke-width="1.2" />
<line x1="674.5" y1="347.6" x2="679.2" y2="347.6" stroke="#ff0000" stroke-width="1.2" />
<line x1="679.8" y1="344.3" x2="687.3" y2="344.3" stroke="#ff0000" stroke-width="1.2" />
<line x1="687.9" y1="343.5" x2="694" y2="343.5" stroke="#ff0000" stroke-width="1.2" />
<line x1="694.6" y1="341.7" x2="700.7" y2="341.7" stroke="#ff0000" stroke-width="1.2" />
<line x1="701.3" y1="342.7" x2="707.4" y2="342.7" stroke="#ff0000" stroke-width="1.2" />
<line x1="708" y1="344.9" x2="714.1" y2="344.9" stroke="#ff0000" stroke-width="1.2" />
<line x1="714.7" y1="343.5" x2="727.5" y2="343.5" stroke="#ff0000" stroke-width="1.2" />
<line x1="728.1" y1="344.3" x2="735.6" y2="344.3" stroke="#ff0000" stroke-width="1.2" />
<line x1="736.2" y1="342.2" x2="743.6" y2="342.2" stroke="#ff0000" stroke-width="1.2" />
<line x1="744.2" y1="340.3" x2="757" y2="340.3" stroke="#ff0000" stroke-width="1.2" />
<polyline points="342.6,382.5 350.2,380.4 357.9,380.7 370.7,382.5 381,382.2 391.2,384.8 398.9,382.7 406.6,384.3 419.4,382.7 429.6,384.5 441.2,384.3 448.8,382 460.4,384.3 468,384.8 478.3,388.1 489.8,391.9 498.8,388.1 511.1,384.8 524.4,383.8 540,382.4 553.4,384.6 566.8,383.2 588.3,381.6 603,381.9 609.8,379.8 629.9,381.9 637.9,379.2 650,378.4 666.1,375.7 679.5,376 694.3,374.7 701,376 722.5,374.4 733.2,374.4 742.6,375.5 750.6,372.8 757.4,374.4" fill="none" stroke="#0a0a8c" stroke-width="2.6" stroke-linejoin="round" stroke-linecap="round" />
<rect x="342.6" y="317.9" width="414.8" height="77.3" fill="none" stroke="#111" stroke-width="1.4"/>
<rect x="342.6" y="401.5" width="414.8" height="30.3" fill="#fff" />
<rect x="393" y="401.5" width="116.7" height="30.3" fill="#e9e9e9" style="mix-blend-mode:multiply"/>
<rect x="562" y="401.5" width="116.8" height="30.3" fill="#e9e9e9" style="mix-blend-mode:multiply"/>
<rect x="731" y="401.5" width="26.4" height="30.3" fill="#e9e9e9" style="mix-blend-mode:multiply"/>
<line x1="356.4" y1="401.5" x2="356.4" y2="431.8" stroke="#000" stroke-width="1.3" stroke-dasharray="2.2,1.8"/>
<line x1="377.5" y1="401.5" x2="377.5" y2="431.8" stroke="#000" stroke-width="1.3" stroke-dasharray="2.2,1.8"/>
<line x1="398.61" y1="401.5" x2="398.61" y2="431.8" stroke="#000" stroke-width="1.3" stroke-dasharray="2.2,1.8"/>
<line x1="419.71" y1="401.5" x2="419.71" y2="431.8" stroke="#000" stroke-width="1.3" stroke-dasharray="2.2,1.8"/>
<line x1="440.82" y1="401.5" x2="440.82" y2="431.8" stroke="#000" stroke-width="1.3" stroke-dasharray="2.2,1.8"/>
<line x1="461.92" y1="401.5" x2="461.92" y2="431.8" stroke="#000" stroke-width="1.3" stroke-dasharray="2.2,1.8"/>
<line x1="483.03" y1="401.5" x2="483.03" y2="431.8" stroke="#000" stroke-width="1.3" stroke-dasharray="2.2,1.8"/>
<line x1="504.13" y1="401.5" x2="504.13" y2="431.8" stroke="#000" stroke-width="1.3" stroke-dasharray="2.2,1.8"/>
<line x1="525.24" y1="401.5" x2="525.24" y2="431.8" stroke="#000" stroke-width="1.3" stroke-dasharray="2.2,1.8"/>
<line x1="546.35" y1="401.5" x2="546.35" y2="431.8" stroke="#000" stroke-width="1.3" stroke-dasharray="2.2,1.8"/>
<line x1="567.45" y1="401.5" x2="567.45" y2="431.8" stroke="#000" stroke-width="1.3" stroke-dasharray="2.2,1.8"/>
<line x1="588.55" y1="401.5" x2="588.55" y2="431.8" stroke="#000" stroke-width="1.3" stroke-dasharray="2.2,1.8"/>
<line x1="609.66" y1="401.5" x2="609.66" y2="431.8" stroke="#000" stroke-width="1.3" stroke-dasharray="2.2,1.8"/>
<line x1="630.76" y1="401.5" x2="630.76" y2="431.8" stroke="#000" stroke-width="1.3" stroke-dasharray="2.2,1.8"/>
<line x1="651.87" y1="401.5" x2="651.87" y2="431.8" stroke="#000" stroke-width="1.3" stroke-dasharray="2.2,1.8"/>
<line x1="672.97" y1="401.5" x2="672.97" y2="431.8" stroke="#000" stroke-width="1.3" stroke-dasharray="2.2,1.8"/>
<line x1="694.08" y1="401.5" x2="694.08" y2="431.8" stroke="#000" stroke-width="1.3" stroke-dasharray="2.2,1.8"/>
<line x1="715.18" y1="401.5" x2="715.18" y2="431.8" stroke="#000" stroke-width="1.3" stroke-dasharray="2.2,1.8"/>
<line x1="736.29" y1="401.5" x2="736.29" y2="431.8" stroke="#000" stroke-width="1.3" stroke-dasharray="2.2,1.8"/>
<clipPath id="dc"><rect x="339.6" y="401.5" width="420.8" height="30.3"/></clipPath>
<g clip-path="url(#dc)">
<line x1="344.86" y1="422.56" x2="341.67" y2="414.68" stroke="#10109a" stroke-width="1.8" />
<polygon points="339.8,410.04 344.09,413.7 339.26,415.65" fill="#10109a" />
<line x1="350.54" y1="422.95" x2="349.06" y2="414.58" stroke="#10109a" stroke-width="1.8" />
<polygon points="348.19,409.65 351.62,414.13 346.5,415.03" fill="#10109a" />
<line x1="357.11" y1="423.01" x2="356.22" y2="414.56" stroke="#10109a" stroke-width="1.8" />
<polygon points="355.69,409.59 358.8,414.29 353.63,414.83" fill="#10109a" />
<line x1="363.67" y1="423.05" x2="363.37" y2="414.55" stroke="#10109a" stroke-width="1.8" />
<polygon points="363.2,409.55 365.97,414.46 360.78,414.64" fill="#10109a" />
<line x1="370.23" y1="423.05" x2="370.53" y2="414.55" stroke="#10109a" stroke-width="1.8" />
<polygon points="370.71,409.55 373.13,414.64 367.93,414.46" fill="#10109a" />
<line x1="377.03" y1="423.03" x2="377.63" y2="414.55" stroke="#10109a" stroke-width="1.8" />
<polygon points="377.98,409.57 380.22,414.74 375.03,414.37" fill="#10109a" />
<line x1="382.79" y1="422.82" x2="384.99" y2="414.61" stroke="#10109a" stroke-width="1.8" />
<polygon points="386.29,409.78 387.5,415.28 382.48,413.94" fill="#10109a" />
<line x1="389.71" y1="422.79" x2="392.06" y2="414.62" stroke="#10109a" stroke-width="1.8" />
<polygon points="393.44,409.81 394.56,415.33 389.56,413.9" fill="#10109a" />
<line x1="395.03" y1="422.02" x2="399.54" y2="414.82" stroke="#10109a" stroke-width="1.8" />
<polygon points="402.19,410.58 401.74,416.19 397.33,413.44" fill="#10109a" />
<line x1="399.69" y1="419.47" x2="407.19" y2="415.48" stroke="#10109a" stroke-width="1.8" />
<polygon points="411.6,413.13 408.41,417.77 405.97,413.18" fill="#10109a" />
<line x1="406.08" y1="417.7" x2="414.39" y2="415.94" stroke="#10109a" stroke-width="1.8" />
<polygon points="419.28,414.9 414.93,418.48 413.85,413.39" fill="#10109a" />
<line x1="412.97" y1="416.54" x2="421.46" y2="416.24" stroke="#10109a" stroke-width="1.8" />
<polygon points="426.46,416.06 421.55,418.84 421.37,413.64" fill="#10109a" />
<line x1="420.03" y1="415.71" x2="428.49" y2="416.45" stroke="#10109a" stroke-width="1.8" />
<polygon points="433.47,416.89 428.27,419.04 428.72,413.86" fill="#10109a" />
<line x1="427.09" y1="415.48" x2="435.52" y2="416.51" stroke="#10109a" stroke-width="1.8" />
<polygon points="440.48,417.12 435.21,419.09 435.84,413.93" fill="#10109a" />
<line x1="434.14" y1="415.36" x2="442.55" y2="416.54" stroke="#10109a" stroke-width="1.8" />
<polygon points="447.5,417.24 442.19,419.12 442.91,413.97" fill="#10109a" />
<line x1="441.21" y1="415.13" x2="449.58" y2="416.6" stroke="#10109a" stroke-width="1.8" />
<polygon points="454.5,417.47 449.13,419.16 450.03,414.04" fill="#10109a" />
<line x1="448.37" y1="414.55" x2="456.58" y2="416.75" stroke="#10109a" stroke-width="1.8" />
<polygon points="461.41,418.05 455.91,419.26 457.25,414.24" fill="#10109a" />
<line x1="455.81" y1="413.45" x2="463.51" y2="417.04" stroke="#10109a" stroke-width="1.8" />
<polygon points="468.04,419.15 462.41,419.4 464.61,414.68" fill="#10109a" />
<line x1="463" y1="413.13" x2="470.51" y2="417.12" stroke="#10109a" stroke-width="1.8" />
<polygon points="474.92,419.47 469.28,419.42 471.73,414.83" fill="#10109a" />
<line x1="470.15" y1="412.93" x2="477.51" y2="417.18" stroke="#10109a" stroke-width="1.8" />
<polygon points="481.84,419.68 476.21,419.43 478.81,414.92" fill="#10109a" />
<line x1="476.69" y1="413.99" x2="484.67" y2="416.9" stroke="#10109a" stroke-width="1.8" />
<polygon points="489.37,418.61 483.79,419.34 485.56,414.46" fill="#10109a" />
<line x1="483.55" y1="418.05" x2="491.76" y2="415.85" stroke="#10109a" stroke-width="1.8" />
<polygon points="496.58,414.55 492.43,418.36 491.08,413.34" fill="#10109a" />
<line x1="491.57" y1="420.17" x2="498.53" y2="415.3" stroke="#10109a" stroke-width="1.8" />
<polygon points="502.63,412.43 500.02,417.43 497.04,413.17" fill="#10109a" />
<line x1="499.36" y1="421.07" x2="505.37" y2="415.06" stroke="#10109a" stroke-width="1.8" />
<polygon points="508.91,411.53 507.21,416.9 503.53,413.22" fill="#10109a" />
<line x1="506.65" y1="421.32" x2="512.34" y2="415" stroke="#10109a" stroke-width="1.8" />
<polygon points="515.69,411.28 514.27,416.74 510.41,413.26" fill="#10109a" />
<line x1="513.69" y1="421.32" x2="519.38" y2="415" stroke="#10109a" stroke-width="1.8" />
<polygon points="522.72,411.28 521.31,416.74 517.44,413.26" fill="#10109a" />
<line x1="520.72" y1="421.32" x2="526.41" y2="415" stroke="#10109a" stroke-width="1.8" />
<polygon points="529.76,411.28 528.34,416.74 524.48,413.26" fill="#10109a" />
<line x1="527.5" y1="421.07" x2="533.51" y2="415.06" stroke="#10109a" stroke-width="1.8" />
<polygon points="537.05,411.53 535.35,416.9 531.67,413.22" fill="#10109a" />
<line x1="533.46" y1="419.68" x2="540.83" y2="415.43" stroke="#10109a" stroke-width="1.8" />
<polygon points="545.16,412.93 542.13,417.68 539.53,413.17" fill="#10109a" />
<line x1="540.82" y1="420.17" x2="547.78" y2="415.3" stroke="#10109a" stroke-width="1.8" />
<polygon points="551.87,412.43 549.27,417.43 546.29,413.17" fill="#10109a" />
<line x1="549.51" y1="421.83" x2="554.38" y2="414.87" stroke="#10109a" stroke-width="1.8" />
<polygon points="557.25,410.77 556.51,416.36 552.25,413.38" fill="#10109a" />
<line x1="557.89" y1="422.56" x2="561.07" y2="414.68" stroke="#10109a" stroke-width="1.8" />
<polygon points="562.94,410.04 563.48,415.65 558.66,413.7" fill="#10109a" />
<line x1="564.92" y1="422.56" x2="568.11" y2="414.68" stroke="#10109a" stroke-width="1.8" />
<polygon points="569.98,410.04 570.52,415.65 565.69,413.7" fill="#10109a" />
<line x1="571.96" y1="422.56" x2="575.14" y2="414.68" stroke="#10109a" stroke-width="1.8" />
<polygon points="577.01,410.04 577.55,415.65 572.73,413.7" fill="#10109a" />
<line x1="579.21" y1="422.64" x2="582.12" y2="414.66" stroke="#10109a" stroke-width="1.8" />
<polygon points="583.83,409.96 584.56,415.54 579.68,413.77" fill="#10109a" />
<line x1="586.03" y1="422.56" x2="589.21" y2="414.68" stroke="#10109a" stroke-width="1.8" />
<polygon points="591.08,410.04 591.62,415.65 586.8,413.7" fill="#10109a" />
<line x1="593.5" y1="422.72" x2="596.13" y2="414.64" stroke="#10109a" stroke-width="1.8" />
<polygon points="597.68,409.88 598.6,415.44 593.66,413.83" fill="#10109a" />
<line x1="599.77" y1="422.42" x2="603.36" y2="414.71" stroke="#10109a" stroke-width="1.8" />
<polygon points="605.48,410.18 605.72,415.81 601.01,413.62" fill="#10109a" />
<line x1="609.07" y1="423.02" x2="609.81" y2="414.56" stroke="#10109a" stroke-width="1.8" />
<polygon points="610.25,409.58 612.4,414.78 607.22,414.33" fill="#10109a" />
<line x1="616.11" y1="423.02" x2="616.85" y2="414.56" stroke="#10109a" stroke-width="1.8" />
<polygon points="617.28,409.58 619.44,414.78 614.26,414.33" fill="#10109a" />
<line x1="622.56" y1="422.95" x2="624.03" y2="414.58" stroke="#10109a" stroke-width="1.8" />
<polygon points="624.9,409.65 626.59,415.03 621.47,414.13" fill="#10109a" />
<line x1="630.18" y1="423.02" x2="630.92" y2="414.56" stroke="#10109a" stroke-width="1.8" />
<polygon points="631.35,409.58 633.51,414.78 628.33,414.33" fill="#10109a" />
<line x1="637.8" y1="423.05" x2="637.8" y2="414.55" stroke="#10109a" stroke-width="1.8" />
<polygon points="637.8,409.55 640.4,414.55 635.2,414.55" fill="#10109a" />
<line x1="644.36" y1="423.03" x2="644.96" y2="414.55" stroke="#10109a" stroke-width="1.8" />
<polygon points="645.31,409.57 647.55,414.74 642.36,414.37" fill="#10109a" />
<line x1="651.28" y1="423.02" x2="652.02" y2="414.56" stroke="#10109a" stroke-width="1.8" />
<polygon points="652.46,409.58 654.61,414.78 649.43,414.33" fill="#10109a" />
<line x1="658.2" y1="423.01" x2="659.09" y2="414.56" stroke="#10109a" stroke-width="1.8" />
<polygon points="659.61,409.59 661.67,414.83 656.5,414.29" fill="#10109a" />
<line x1="665.23" y1="423.01" x2="666.12" y2="414.56" stroke="#10109a" stroke-width="1.8" />
<polygon points="666.65,409.59 668.71,414.83 663.54,414.29" fill="#10109a" />
<line x1="672.39" y1="423.02" x2="673.13" y2="414.56" stroke="#10109a" stroke-width="1.8" />
<polygon points="673.56,409.58 675.72,414.78 670.54,414.33" fill="#10109a" />
<line x1="679.42" y1="423.02" x2="680.16" y2="414.56" stroke="#10109a" stroke-width="1.8" />
<polygon points="680.6,409.58 682.75,414.78 677.57,414.33" fill="#10109a" />
<line x1="686.46" y1="423.02" x2="687.2" y2="414.56" stroke="#10109a" stroke-width="1.8" />
<polygon points="687.63,409.58 689.79,414.78 684.61,414.33" fill="#10109a" />
<line x1="693.49" y1="423.02" x2="694.23" y2="414.56" stroke="#10109a" stroke-width="1.8" />
<polygon points="694.67,409.58 696.82,414.78 691.64,414.33" fill="#10109a" />
<line x1="700.53" y1="423.02" x2="701.27" y2="414.56" stroke="#10109a" stroke-width="1.8" />
<polygon points="701.7,409.58 703.86,414.78 698.68,414.33" fill="#10109a" />
<line x1="707.56" y1="423.02" x2="708.3" y2="414.56" stroke="#10109a" stroke-width="1.8" />
<polygon points="708.74,409.58 710.89,414.78 705.71,414.33" fill="#10109a" />
<line x1="714.48" y1="423.01" x2="715.37" y2="414.56" stroke="#10109a" stroke-width="1.8" />
<polygon points="715.89,409.59 717.95,414.83 712.78,414.29" fill="#10109a" />
<line x1="721.51" y1="423.01" x2="722.4" y2="414.56" stroke="#10109a" stroke-width="1.8" />
<polygon points="722.93,409.59 724.99,414.83 719.82,414.29" fill="#10109a" />
<line x1="728.08" y1="422.95" x2="729.56" y2="414.58" stroke="#10109a" stroke-width="1.8" />
<polygon points="730.43,409.65 732.12,415.03 727,414.13" fill="#10109a" />
<line x1="734.89" y1="422.9" x2="736.65" y2="414.59" stroke="#10109a" stroke-width="1.8" />
<polygon points="737.69,409.7 739.2,415.13 734.11,414.05" fill="#10109a" />
<line x1="741.58" y1="422.82" x2="743.78" y2="414.61" stroke="#10109a" stroke-width="1.8" />
<polygon points="745.07,409.78 746.29,415.28 741.27,413.94" fill="#10109a" />
<line x1="748.61" y1="422.82" x2="750.81" y2="414.61" stroke="#10109a" stroke-width="1.8" />
<polygon points="752.11,409.78 753.32,415.28 748.3,413.94" fill="#10109a" />
<line x1="755.99" y1="422.9" x2="757.76" y2="414.59" stroke="#10109a" stroke-width="1.8" />
<polygon points="758.8,409.7 760.3,415.13 755.22,414.05" fill="#10109a" />
</g>
<rect x="342.6" y="401.5" width="414.8" height="30.3" fill="none" stroke="#111" stroke-width="1.4"/>
<rect x="342.6" y="438.2" width="414.8" height="78.1" fill="#87cefa" />
<rect x="393" y="438.2" width="116.7" height="78.1" fill="#e3e3e3" style="mix-blend-mode:multiply"/>
<rect x="562" y="438.2" width="116.8" height="78.1" fill="#e3e3e3" style="mix-blend-mode:multiply"/>
<rect x="731" y="438.2" width="26.4" height="78.1" fill="#e3e3e3" style="mix-blend-mode:multiply"/>
<line x1="342.6" y1="457.3" x2="757.4" y2="457.3" stroke="#000" stroke-width="1.3" stroke-dasharray="2.2,1.8" stroke-dashoffset="0.7"/>
<line x1="342.6" y1="476.8" x2="757.4" y2="476.8" stroke="#000" stroke-width="1.3" stroke-dasharray="2.2,1.8" stroke-dashoffset="0.7"/>
<line x1="342.6" y1="496.4" x2="757.4" y2="496.4" stroke="#000" stroke-width="1.3" stroke-dasharray="2.2,1.8" stroke-dashoffset="0.7"/>
<line x1="356.4" y1="438.2" x2="356.4" y2="516.3" stroke="#000" stroke-width="1.3" stroke-dasharray="2.2,1.8"/>
<line x1="377.5" y1="438.2" x2="377.5" y2="516.3" stroke="#000" stroke-width="1.3" stroke-dasharray="2.2,1.8"/>
<line x1="398.61" y1="438.2" x2="398.61" y2="516.3" stroke="#000" stroke-width="1.3" stroke-dasharray="2.2,1.8"/>
<line x1="419.71" y1="438.2" x2="419.71" y2="516.3" stroke="#000" stroke-width="1.3" stroke-dasharray="2.2,1.8"/>
<line x1="440.82" y1="438.2" x2="440.82" y2="516.3" stroke="#000" stroke-width="1.3" stroke-dasharray="2.2,1.8"/>
<line x1="461.92" y1="438.2" x2="461.92" y2="516.3" stroke="#000" stroke-width="1.3" stroke-dasharray="2.2,1.8"/>
<line x1="483.03" y1="438.2" x2="483.03" y2="516.3" stroke="#000" stroke-width="1.3" stroke-dasharray="2.2,1.8"/>
<line x1="504.13" y1="438.2" x2="504.13" y2="516.3" stroke="#000" stroke-width="1.3" stroke-dasharray="2.2,1.8"/>
<line x1="525.24" y1="438.2" x2="525.24" y2="516.3" stroke="#000" stroke-width="1.3" stroke-dasharray="2.2,1.8"/>
<line x1="546.35" y1="438.2" x2="546.35" y2="516.3" stroke="#000" stroke-width="1.3" stroke-dasharray="2.2,1.8"/>
<line x1="567.45" y1="438.2" x2="567.45" y2="516.3" stroke="#000" stroke-width="1.3" stroke-dasharray="2.2,1.8"/>
<line x1="588.55" y1="438.2" x2="588.55" y2="516.3" stroke="#000" stroke-width="1.3" stroke-dasharray="2.2,1.8"/>
<line x1="609.66" y1="438.2" x2="609.66" y2="516.3" stroke="#000" stroke-width="1.3" stroke-dasharray="2.2,1.8"/>
<line x1="630.76" y1="438.2" x2="630.76" y2="516.3" stroke="#000" stroke-width="1.3" stroke-dasharray="2.2,1.8"/>
<line x1="651.87" y1="438.2" x2="651.87" y2="516.3" stroke="#000" stroke-width="1.3" stroke-dasharray="2.2,1.8"/>
<line x1="672.97" y1="438.2" x2="672.97" y2="516.3" stroke="#000" stroke-width="1.3" stroke-dasharray="2.2,1.8"/>
<line x1="694.08" y1="438.2" x2="694.08" y2="516.3" stroke="#000" stroke-width="1.3" stroke-dasharray="2.2,1.8"/>
<line x1="715.18" y1="438.2" x2="715.18" y2="516.3" stroke="#000" stroke-width="1.3" stroke-dasharray="2.2,1.8"/>
<line x1="736.29" y1="438.2" x2="736.29" y2="516.3" stroke="#000" stroke-width="1.3" stroke-dasharray="2.2,1.8"/>
<clipPath id="cbc"><rect x="342.6" y="438.2" width="414.8" height="78.1"/></clipPath>
<g clip-path="url(#cbc)">
<polyline points="342.6,475.6 360.5,470.5 378.4,471.5 396.3,477.4 419.4,485.6 427,479.2 434.8,476.9 441.2,476.6 447.6,484.5 455.2,481.2 462.4,476.6 469.3,479.2 475.7,478.1 483.4,470.5 489.8,469.7 498.8,472.8 519.3,475.6 532,473 539.7,476.1 546.7,471.6 560.1,477 566.8,505.1 574.9,512.6 580.2,513.7 623.2,513.7 631.2,509.2 637.9,493.3 644.6,493.3 651.3,512.6 658.1,514 690.3,513.7 695.6,509.2 701,491.7 707.7,487.2 714.4,485 722.5,490.4 729.2,494.4 735.9,502.4 742.6,497.6 749.3,509.2 757.4,501.1" fill="none" stroke="#ffa000" stroke-width="2.2" stroke-linejoin="round" stroke-linecap="round" />
<circle cx="342.33" cy="445.9" r="2.9" fill="#b22222" />
<circle cx="349.36" cy="445.9" r="2.9" fill="#b22222" />
<circle cx="356.4" cy="445.9" r="2.9" fill="#b22222" />
<circle cx="363.44" cy="445.9" r="2.9" fill="#b22222" />
<circle cx="370.47" cy="445.9" r="2.9" fill="#b22222" />
<circle cx="377.5" cy="445.9" r="2.9" fill="#b22222" />
<circle cx="384.54" cy="447.4" r="2.9" fill="#b22222" />
<circle cx="391.57" cy="447.4" r="2.9" fill="#b22222" />
<circle cx="398.61" cy="447.4" r="2.9" fill="#b22222" />
<circle cx="405.64" cy="448.4" r="2.9" fill="#b22222" />
<circle cx="412.68" cy="448.4" r="2.9" fill="#b22222" />
<circle cx="419.71" cy="452.3" r="2.9" fill="#b22222" />
<circle cx="426.75" cy="465.3" r="2.9" fill="#b22222" />
<circle cx="433.78" cy="465.3" r="2.9" fill="#b22222" />
<circle cx="440.82" cy="493.5" r="2.9" fill="#b22222" />
<circle cx="447.85" cy="493.5" r="2.9" fill="#b22222" />
<circle cx="454.89" cy="450" r="2.9" fill="#b22222" />
<circle cx="461.92" cy="448.4" r="2.9" fill="#b22222" />
<circle cx="468.96" cy="445.4" r="2.9" fill="#b22222" />
<circle cx="476" cy="445.4" r="2.9" fill="#b22222" />
<circle cx="483.03" cy="445.4" r="2.9" fill="#b22222" />
<circle cx="490.06" cy="445.4" r="2.9" fill="#b22222" />
<circle cx="497.1" cy="445.4" r="2.9" fill="#b22222" />
<circle cx="504.13" cy="445.4" r="2.9" fill="#b22222" />
<circle cx="511.17" cy="445.4" r="2.9" fill="#b22222" />
<circle cx="518.2" cy="445.4" r="2.9" fill="#b22222" />
<circle cx="525.24" cy="445.4" r="2.9" fill="#b22222" />
<circle cx="532.27" cy="443.4" r="2.9" fill="#b22222" />
<circle cx="539.31" cy="443.4" r="2.9" fill="#b22222" />
<circle cx="546.35" cy="443.4" r="2.9" fill="#b22222" />
<circle cx="553.38" cy="443.4" r="2.9" fill="#b22222" />
<circle cx="560.41" cy="443.4" r="2.9" fill="#b22222" />
<circle cx="567.45" cy="443.4" r="2.9" fill="#b22222" />
<circle cx="574.49" cy="443.4" r="2.9" fill="#b22222" />
<circle cx="581.52" cy="445.3" r="2.9" fill="#b22222" />
<circle cx="588.55" cy="445.3" r="2.9" fill="#b22222" />
<circle cx="595.59" cy="443.4" r="2.9" fill="#b22222" />
<circle cx="602.62" cy="443.4" r="2.9" fill="#b22222" />
<circle cx="609.66" cy="443.4" r="2.9" fill="#b22222" />
<circle cx="616.69" cy="443.4" r="2.9" fill="#b22222" />
<circle cx="623.73" cy="443.4" r="2.9" fill="#b22222" />
<circle cx="630.76" cy="443.4" r="2.9" fill="#b22222" />
<circle cx="637.8" cy="443.4" r="2.9" fill="#b22222" />
<circle cx="644.84" cy="446.9" r="2.9" fill="#b22222" />
<circle cx="651.87" cy="446.9" r="2.9" fill="#b22222" />
<circle cx="658.9" cy="446.9" r="2.9" fill="#b22222" />
<circle cx="665.94" cy="498.4" r="2.9" fill="#b22222" />
<circle cx="672.97" cy="498.15" r="2.9" fill="#b22222" />
<circle cx="680.01" cy="497.87" r="2.9" fill="#b22222" />
<circle cx="687.04" cy="497.58" r="2.9" fill="#b22222" />
<circle cx="694.08" cy="497.29" r="2.9" fill="#b22222" />
<circle cx="701.12" cy="497" r="2.9" fill="#b22222" />
<circle cx="708.15" cy="496.71" r="2.9" fill="#b22222" />
<circle cx="715.18" cy="496.42" r="2.9" fill="#b22222" />
<circle cx="722.22" cy="496.13" r="2.9" fill="#b22222" />
<circle cx="729.25" cy="495.84" r="2.9" fill="#b22222" />
<circle cx="736.29" cy="495.55" r="2.9" fill="#b22222" />
<circle cx="743.33" cy="495.26" r="2.9" fill="#b22222" />
<circle cx="750.36" cy="494.97" r="2.9" fill="#b22222" />
<circle cx="757.39" cy="494.68" r="2.9" fill="#b22222" />
<circle cx="342.33" cy="512.3" r="2.8" fill="#ffffff" />
<circle cx="342.33" cy="511.24" r="2.8" fill="#e0e0e0" />
<circle cx="342.33" cy="510.18" r="2.8" fill="#b8b8b8" />
<circle cx="342.33" cy="509.12" r="2.8" fill="#808080" />
<circle cx="342.33" cy="508.06" r="2.8" fill="#404040" />
<circle cx="342.33" cy="507" r="2.8" fill="#000000" />
<circle cx="349.36" cy="512.3" r="2.8" fill="#ffffff" />
<circle cx="349.36" cy="511.14" r="2.8" fill="#e0e0e0" />
<circle cx="349.36" cy="509.98" r="2.8" fill="#b8b8b8" />
<circle cx="349.36" cy="508.82" r="2.8" fill="#808080" />
<circle cx="349.36" cy="507.66" r="2.8" fill="#404040" />
<circle cx="349.36" cy="506.5" r="2.8" fill="#000000" />
<circle cx="356.4" cy="512.3" r="2.8" fill="#ffffff" />
<circle cx="356.4" cy="510.64" r="2.8" fill="#e0e0e0" />
<circle cx="356.4" cy="508.98" r="2.8" fill="#b8b8b8" />
<circle cx="356.4" cy="507.32" r="2.8" fill="#808080" />
<circle cx="356.4" cy="505.66" r="2.8" fill="#404040" />
<circle cx="356.4" cy="504" r="2.8" fill="#000000" />
<circle cx="363.44" cy="512.3" r="2.8" fill="#ffffff" />
<circle cx="363.44" cy="510.52" r="2.8" fill="#e0e0e0" />
<circle cx="363.44" cy="508.74" r="2.8" fill="#b8b8b8" />
<circle cx="363.44" cy="506.96" r="2.8" fill="#808080" />
<circle cx="363.44" cy="505.18" r="2.8" fill="#404040" />
<circle cx="363.44" cy="503.4" r="2.8" fill="#000000" />
<circle cx="370.47" cy="512.3" r="2.8" fill="#ffffff" />
<circle cx="370.47" cy="510.52" r="2.8" fill="#e0e0e0" />
<circle cx="370.47" cy="508.74" r="2.8" fill="#b8b8b8" />
<circle cx="370.47" cy="506.96" r="2.8" fill="#808080" />
<circle cx="370.47" cy="505.18" r="2.8" fill="#404040" />
<circle cx="370.47" cy="503.4" r="2.8" fill="#000000" />
<circle cx="377.5" cy="512.3" r="2.8" fill="#ffffff" />
<circle cx="377.5" cy="510.64" r="2.8" fill="#e0e0e0" />
<circle cx="377.5" cy="508.98" r="2.8" fill="#b8b8b8" />
<circle cx="377.5" cy="507.32" r="2.8" fill="#808080" />
<circle cx="377.5" cy="505.66" r="2.8" fill="#404040" />
<circle cx="377.5" cy="504" r="2.8" fill="#000000" />
<circle cx="384.54" cy="512.3" r="2.8" fill="#ffffff" />
<circle cx="384.54" cy="510.52" r="2.8" fill="#e0e0e0" />
<circle cx="384.54" cy="508.74" r="2.8" fill="#b8b8b8" />
<circle cx="384.54" cy="506.96" r="2.8" fill="#808080" />
<circle cx="384.54" cy="505.18" r="2.8" fill="#404040" />
<circle cx="384.54" cy="503.4" r="2.8" fill="#000000" />
<circle cx="391.57" cy="512.3" r="2.8" fill="#ffffff" />
<circle cx="391.57" cy="510.72" r="2.8" fill="#e0e0e0" />
<circle cx="391.57" cy="509.14" r="2.8" fill="#b8b8b8" />
<circle cx="391.57" cy="507.56" r="2.8" fill="#808080" />
<circle cx="391.57" cy="505.98" r="2.8" fill="#404040" />
<circle cx="391.57" cy="504.4" r="2.8" fill="#000000" />
<circle cx="398.61" cy="512.3" r="2.8" fill="#ffffff" />
<circle cx="398.61" cy="510.52" r="2.8" fill="#e0e0e0" />
<circle cx="398.61" cy="508.74" r="2.8" fill="#b8b8b8" />
<circle cx="398.61" cy="506.96" r="2.8" fill="#808080" />
<circle cx="398.61" cy="505.18" r="2.8" fill="#404040" />
<circle cx="398.61" cy="503.4" r="2.8" fill="#000000" />
<circle cx="405.64" cy="512.3" r="2.8" fill="#ffffff" />
<circle cx="405.64" cy="510.76" r="2.8" fill="#e0e0e0" />
<circle cx="405.64" cy="509.22" r="2.8" fill="#b8b8b8" />
<circle cx="405.64" cy="507.68" r="2.8" fill="#808080" />
<circle cx="405.64" cy="506.14" r="2.8" fill="#404040" />
<circle cx="405.64" cy="504.6" r="2.8" fill="#000000" />
<circle cx="412.68" cy="512.3" r="2.8" fill="#ffffff" />
<circle cx="412.68" cy="511.38" r="2.8" fill="#e0e0e0" />
<circle cx="412.68" cy="510.46" r="2.8" fill="#b8b8b8" />
<circle cx="412.68" cy="509.54" r="2.8" fill="#808080" />
<circle cx="412.68" cy="508.62" r="2.8" fill="#404040" />
<circle cx="412.68" cy="507.7" r="2.8" fill="#000000" />
<circle cx="419.71" cy="512.3" r="2.8" fill="#ffffff" />
<circle cx="419.71" cy="511.5" r="2.8" fill="#e0e0e0" />
<circle cx="419.71" cy="510.7" r="2.8" fill="#b8b8b8" />
<circle cx="419.71" cy="509.9" r="2.8" fill="#808080" />
<circle cx="419.71" cy="509.1" r="2.8" fill="#404040" />
<circle cx="419.71" cy="508.3" r="2.8" fill="#000000" />
<circle cx="426.75" cy="512.3" r="2.8" fill="#ffffff" />
<circle cx="426.75" cy="510.64" r="2.8" fill="#e0e0e0" />
<circle cx="426.75" cy="508.98" r="2.8" fill="#b8b8b8" />
<circle cx="426.75" cy="507.32" r="2.8" fill="#808080" />
<circle cx="426.75" cy="505.66" r="2.8" fill="#404040" />
<circle cx="426.75" cy="504" r="2.8" fill="#000000" />
<circle cx="433.78" cy="512.3" r="2.8" fill="#ffffff" />
<circle cx="433.78" cy="510.52" r="2.8" fill="#e0e0e0" />
<circle cx="433.78" cy="508.74" r="2.8" fill="#b8b8b8" />
<circle cx="433.78" cy="506.96" r="2.8" fill="#808080" />
<circle cx="433.78" cy="505.18" r="2.8" fill="#404040" />
<circle cx="433.78" cy="503.4" r="2.8" fill="#000000" />
<circle cx="440.82" cy="512.3" r="2.8" fill="#ffffff" />
<circle cx="440.82" cy="510.7" r="2.8" fill="#e0e0e0" />
<circle cx="440.82" cy="509.1" r="2.8" fill="#b8b8b8" />
<circle cx="440.82" cy="507.5" r="2.8" fill="#808080" />
<circle cx="440.82" cy="505.9" r="2.8" fill="#404040" />
<circle cx="440.82" cy="504.3" r="2.8" fill="#000000" />
<circle cx="447.85" cy="512.3" r="2.8" fill="#ffffff" />
<circle cx="447.85" cy="510.7" r="2.8" fill="#e0e0e0" />
<circle cx="447.85" cy="509.1" r="2.8" fill="#b8b8b8" />
<circle cx="447.85" cy="507.5" r="2.8" fill="#808080" />
<circle cx="447.85" cy="505.9" r="2.8" fill="#404040" />
<circle cx="447.85" cy="504.3" r="2.8" fill="#000000" />
<circle cx="454.89" cy="512.3" r="2.8" fill="#ffffff" />
<circle cx="454.89" cy="510.34" r="2.8" fill="#e0e0e0" />
<circle cx="454.89" cy="508.38" r="2.8" fill="#b8b8b8" />
<circle cx="454.89" cy="506.42" r="2.8" fill="#808080" />
<circle cx="454.89" cy="504.46" r="2.8" fill="#404040" />
<circle cx="454.89" cy="502.5" r="2.8" fill="#000000" />
<circle cx="461.92" cy="512.3" r="2.8" fill="#ffffff" />
<circle cx="461.92" cy="510.84" r="2.8" fill="#e0e0e0" />
<circle cx="461.92" cy="509.38" r="2.8" fill="#b8b8b8" />
<circle cx="461.92" cy="507.92" r="2.8" fill="#808080" />
<circle cx="461.92" cy="506.46" r="2.8" fill="#404040" />
<circle cx="461.92" cy="505" r="2.8" fill="#000000" />
<circle cx="468.96" cy="512.3" r="2.8" fill="#ffffff" />
<circle cx="468.96" cy="510.84" r="2.8" fill="#e0e0e0" />
<circle cx="468.96" cy="509.38" r="2.8" fill="#b8b8b8" />
<circle cx="468.96" cy="507.92" r="2.8" fill="#808080" />
<circle cx="468.96" cy="506.46" r="2.8" fill="#404040" />
<circle cx="468.96" cy="505" r="2.8" fill="#000000" />
<circle cx="476" cy="512.3" r="2.8" fill="#ffffff" />
<circle cx="476" cy="510.84" r="2.8" fill="#e0e0e0" />
<circle cx="476" cy="509.38" r="2.8" fill="#b8b8b8" />
<circle cx="476" cy="507.92" r="2.8" fill="#808080" />
<circle cx="476" cy="506.46" r="2.8" fill="#404040" />
<circle cx="476" cy="505" r="2.8" fill="#000000" />
<circle cx="483.03" cy="512.3" r="2.8" fill="#ffffff" />
<circle cx="483.03" cy="510.28" r="2.8" fill="#e0e0e0" />
<circle cx="483.03" cy="508.26" r="2.8" fill="#b8b8b8" />
<circle cx="483.03" cy="506.24" r="2.8" fill="#808080" />
<circle cx="483.03" cy="504.22" r="2.8" fill="#404040" />
<circle cx="483.03" cy="502.2" r="2.8" fill="#000000" />
<circle cx="490.06" cy="512.3" r="2.8" fill="#ffffff" />
<circle cx="490.06" cy="510.64" r="2.8" fill="#e0e0e0" />
<circle cx="490.06" cy="508.98" r="2.8" fill="#b8b8b8" />
<circle cx="490.06" cy="507.32" r="2.8" fill="#808080" />
<circle cx="490.06" cy="505.66" r="2.8" fill="#404040" />
<circle cx="490.06" cy="504" r="2.8" fill="#000000" />
<circle cx="497.1" cy="512.3" r="2.8" fill="#ffffff" />
<circle cx="497.1" cy="511.2" r="2.8" fill="#e0e0e0" />
<circle cx="497.1" cy="510.1" r="2.8" fill="#b8b8b8" />
<circle cx="497.1" cy="509" r="2.8" fill="#808080" />
<circle cx="497.1" cy="507.9" r="2.8" fill="#404040" />
<circle cx="497.1" cy="506.8" r="2.8" fill="#000000" />
<circle cx="504.13" cy="512.3" r="2.8" fill="#ffffff" />
<circle cx="504.13" cy="511.2" r="2.8" fill="#e0e0e0" />
<circle cx="504.13" cy="510.1" r="2.8" fill="#b8b8b8" />
<circle cx="504.13" cy="509" r="2.8" fill="#808080" />
<circle cx="504.13" cy="507.9" r="2.8" fill="#404040" />
<circle cx="504.13" cy="506.8" r="2.8" fill="#000000" />
<circle cx="511.17" cy="512.3" r="2.8" fill="#ffffff" />
<circle cx="511.17" cy="511.2" r="2.8" fill="#e0e0e0" />
<circle cx="511.17" cy="510.1" r="2.8" fill="#b8b8b8" />
<circle cx="511.17" cy="509" r="2.8" fill="#808080" />
<circle cx="511.17" cy="507.9" r="2.8" fill="#404040" />
<circle cx="511.17" cy="506.8" r="2.8" fill="#000000" />
<circle cx="518.2" cy="512.3" r="2.8" fill="#ffffff" />
<circle cx="518.2" cy="511.3" r="2.8" fill="#e0e0e0" />
<circle cx="518.2" cy="510.3" r="2.8" fill="#b8b8b8" />
<circle cx="518.2" cy="509.3" r="2.8" fill="#808080" />
<circle cx="518.2" cy="508.3" r="2.8" fill="#404040" />
<circle cx="518.2" cy="507.3" r="2.8" fill="#000000" />
<circle cx="525.24" cy="512.3" r="2.8" fill="#ffffff" />
<circle cx="525.24" cy="511.2" r="2.8" fill="#e0e0e0" />
<circle cx="525.24" cy="510.1" r="2.8" fill="#b8b8b8" />
<circle cx="525.24" cy="509" r="2.8" fill="#808080" />
<circle cx="525.24" cy="507.9" r="2.8" fill="#404040" />
<circle cx="525.24" cy="506.8" r="2.8" fill="#000000" />
<circle cx="532.27" cy="512.3" r="2.8" fill="#ffffff" />
<circle cx="532.27" cy="511.1" r="2.8" fill="#e0e0e0" />
<circle cx="532.27" cy="509.9" r="2.8" fill="#b8b8b8" />
<circle cx="532.27" cy="508.7" r="2.8" fill="#808080" />
<circle cx="532.27" cy="507.5" r="2.8" fill="#404040" />
<circle cx="532.27" cy="506.3" r="2.8" fill="#000000" />
<circle cx="539.31" cy="512.3" r="2.8" fill="#ffffff" />
<circle cx="539.31" cy="511.2" r="2.8" fill="#e0e0e0" />
<circle cx="539.31" cy="510.1" r="2.8" fill="#b8b8b8" />
<circle cx="539.31" cy="509" r="2.8" fill="#808080" />
<circle cx="539.31" cy="507.9" r="2.8" fill="#404040" />
<circle cx="539.31" cy="506.8" r="2.8" fill="#000000" />
<circle cx="546.35" cy="512.3" r="2.8" fill="#ffffff" />
<circle cx="546.35" cy="510.28" r="2.8" fill="#e0e0e0" />
<circle cx="546.35" cy="508.26" r="2.8" fill="#b8b8b8" />
<circle cx="546.35" cy="506.24" r="2.8" fill="#808080" />
<circle cx="546.35" cy="504.22" r="2.8" fill="#404040" />
<circle cx="546.35" cy="502.2" r="2.8" fill="#000000" />
<circle cx="553.38" cy="512.3" r="2.8" fill="#ffffff" />
<circle cx="553.38" cy="510.84" r="2.8" fill="#e0e0e0" />
<circle cx="553.38" cy="509.38" r="2.8" fill="#b8b8b8" />
<circle cx="553.38" cy="507.92" r="2.8" fill="#808080" />
<circle cx="553.38" cy="506.46" r="2.8" fill="#404040" />
<circle cx="553.38" cy="505" r="2.8" fill="#000000" />
<circle cx="560.41" cy="512.3" r="2.8" fill="#ffffff" />
<circle cx="560.41" cy="510.94" r="2.8" fill="#e0e0e0" />
<circle cx="560.41" cy="509.58" r="2.8" fill="#b8b8b8" />
<circle cx="560.41" cy="508.22" r="2.8" fill="#808080" />
<circle cx="560.41" cy="506.86" r="2.8" fill="#404040" />
<circle cx="560.41" cy="505.5" r="2.8" fill="#000000" />
<circle cx="567.45" cy="510" r="2.9" fill="#000" />
<circle cx="574.49" cy="510" r="2.9" fill="#000" />
<circle cx="581.52" cy="510" r="2.9" fill="#000" />
<circle cx="588.55" cy="510" r="2.9" fill="#000" />
<circle cx="595.59" cy="510" r="2.9" fill="#000" />
<circle cx="602.62" cy="510" r="2.9" fill="#000" />
<circle cx="609.66" cy="510" r="2.9" fill="#000" />
<circle cx="616.69" cy="510" r="2.9" fill="#000" />
<circle cx="623.73" cy="510" r="2.9" fill="#000" />
<circle cx="630.76" cy="510" r="2.9" fill="#000" />
<circle cx="637.8" cy="510" r="2.9" fill="#000" />
<circle cx="644.84" cy="510" r="2.9" fill="#000" />
<circle cx="651.87" cy="510" r="2.9" fill="#000" />
<circle cx="658.9" cy="510" r="2.9" fill="#000" />
<circle cx="665.94" cy="510" r="2.9" fill="#000" />
<circle cx="672.97" cy="510" r="2.9" fill="#000" />
<circle cx="680.01" cy="510" r="2.9" fill="#000" />
<circle cx="687.04" cy="510" r="2.9" fill="#000" />
<circle cx="694.08" cy="510" r="2.9" fill="#000" />
<circle cx="701.12" cy="510" r="2.9" fill="#000" />
<circle cx="708.15" cy="506.3" r="2.9" fill="#9a9a9a" />
<circle cx="708.15" cy="510.3" r="2.9" fill="#111" />
<circle cx="715.18" cy="506.3" r="2.9" fill="#9a9a9a" />
<circle cx="715.18" cy="510.3" r="2.9" fill="#111" />
<circle cx="722.22" cy="510" r="2.9" fill="#000" />
<circle cx="729.25" cy="510" r="2.9" fill="#000" />
<circle cx="736.29" cy="510" r="2.9" fill="#000" />
<circle cx="743.33" cy="510" r="2.9" fill="#000" />
<circle cx="750.36" cy="510" r="2.9" fill="#000" />
<circle cx="757.39" cy="510" r="2.9" fill="#000" />
</g>
<rect x="342.6" y="438.2" width="414.8" height="78.1" fill="none" stroke="#111" stroke-width="1.4"/>
<clipPath id="kc"><rect x="342.6" y="525.7" width="414.8" height="77.4"/></clipPath>
<g clip-path="url(#kc)">
<rect x="342.6" y="525.7" width="414.8" height="77.4" fill="#5a5a5a" />
<polygon points="359.1,525.8 361.8,528.2 370,531.6 378.2,529.5 385.5,529.2 390.4,527.4 397.5,527.5 404.1,529.2 407,528.6 410.9,525.8" fill="#87cefa" />
<polygon points="342.6,533 355.8,544.4 364.2,562.6 370.3,575.9 376.4,579.5 381.2,575.9 386,566.2 390.9,559.5 397,557.1 400,556.1 412.2,556.1 419.1,559.5 423.2,571.8 428.6,577.3 438.1,580.7 448.2,584 453.6,588.8 461.8,591.6 467.3,584 476.1,577 480.9,582.7 485,586.8 490.4,584 497.3,571.8 504.1,560.9 510.9,551.4 519.1,547.3 530,545.2 535.4,547.3 540.9,555.4 545,577.3 546.3,577.2 554.5,560.9 560,544.5 565.4,530.9 568.1,525.8 757.4,525.8 757.4,603.3 342.6,603.3" fill="#383838" />
<polyline points="343,551.1 349.7,557.7 356.4,564.4 363,555.9 369.7,565 377.6,569.2 383.6,574.7 390.9,586.8 398.6,592.2 406.8,596.3 416.3,599 428.6,601.1 449,602.5 470,603" fill="none" stroke="#a8a8a8" stroke-width="1.2" stroke-linejoin="round" stroke-linecap="round" />
<polyline points="343,532.5 349.7,530.5 355.8,526.8 362.4,531.1 367.9,538.3 372.1,545 377,560.8 384.2,557.7 392.1,549.2 398.6,554.1 405.4,559.5 412.2,567.7 415.7,580 419.1,597.7 424.5,602.5 440,603 455,601.8 461.8,598.4 471.4,598 482.3,595 497.3,596.1 508.2,595 517.7,594.3 527.2,594.7 538.1,594.7 546.8,592.2 556.4,584 565.9,574.5 572.7,566.3 579.5,551.4 586.3,563.6 594.5,582.7 602,592.2 608.8,597.7 616.3,590.9 623.2,586.1 630,590.9 638.1,594.3 648,597.2 661.7,600.6 675.3,602.6 757.4,602.8" fill="none" stroke="#f0f0f0" stroke-width="1.6" stroke-linejoin="round" stroke-linecap="round" />
<rect x="342.4" y="578.5" width="2" height="26.6" rx="1" fill="#ffb400"/>
<rect x="347.6" y="586.2" width="3.6" height="18.9" rx="1.8" fill="#ffb400"/>
<circle cx="356.4" cy="601.2" r="1.8" fill="#ffb400" />
<circle cx="391.5" cy="601.2" r="1.8" fill="#ffb400" />
<rect x="396.5" y="594.5" width="3.6" height="10.6" rx="1.8" fill="#ffb400"/>
<rect x="403.6" y="590.2" width="3.6" height="14.9" rx="1.8" fill="#ffb400"/>
<rect x="410.4" y="590.2" width="3.6" height="14.9" rx="1.8" fill="#ffb400"/>
<circle cx="419.5" cy="601.2" r="1.8" fill="#ffb400" />
<circle cx="511.6" cy="601.2" r="1.8" fill="#ffb400" />
<circle cx="532.4" cy="601.2" r="1.8" fill="#ffb400" />
<circle cx="553.4" cy="601.2" r="1.8" fill="#ffb400" />
<rect x="558.6" y="586.8" width="3.6" height="18.3" rx="1.8" fill="#ffb400"/>
<rect x="565.7" y="549.3" width="3.6" height="55.8" rx="1.8" fill="#ffb400"/>
<rect x="572.7" y="535.7" width="3.6" height="69.4" rx="1.8" fill="#ffb400"/>
<rect x="579.8" y="533.6" width="3.6" height="71.5" rx="1.8" fill="#ffb400"/>
<rect x="586.6" y="534.3" width="3.6" height="70.8" rx="1.8" fill="#ffb400"/>
<rect x="593.4" y="533.6" width="3.6" height="71.5" rx="1.8" fill="#ffb400"/>
<rect x="600.6" y="536.4" width="3.6" height="68.7" rx="1.8" fill="#ffb400"/>
<rect x="607.7" y="535.7" width="3.6" height="69.4" rx="1.8" fill="#ffb400"/>
<rect x="614.5" y="536.4" width="3.6" height="68.7" rx="1.8" fill="#ffb400"/>
<rect x="621.6" y="539.8" width="3.6" height="65.3" rx="1.8" fill="#ffb400"/>
<rect x="628.6" y="549.3" width="3.6" height="55.8" rx="1.8" fill="#ffb400"/>
<rect x="635.7" y="553.4" width="3.6" height="51.7" rx="1.8" fill="#ffb400"/>
<rect x="642.8" y="553.4" width="3.6" height="51.7" rx="1.8" fill="#ffb400"/>
<rect x="649.6" y="542.5" width="3.6" height="62.6" rx="1.8" fill="#ffb400"/>
<rect x="656.7" y="535.7" width="3.6" height="69.4" rx="1.8" fill="#ffb400"/>
<rect x="664.6" y="536.4" width="3.6" height="68.7" rx="1.8" fill="#ffb400"/>
<rect x="671.5" y="536.4" width="3.6" height="68.7" rx="1.8" fill="#ffb400"/>
<rect x="678.6" y="538.4" width="3.6" height="66.7" rx="1.8" fill="#ffb400"/>
<rect x="685.5" y="539.4" width="3.6" height="65.7" rx="1.8" fill="#ffb400"/>
<rect x="692.6" y="546" width="3.6" height="59.1" rx="1.8" fill="#ffb400"/>
<rect x="699.8" y="557.6" width="3.6" height="47.5" rx="1.8" fill="#ffb400"/>
<rect x="706.7" y="567.5" width="3.6" height="37.6" rx="1.8" fill="#ffb400"/>
<rect x="713.5" y="570.5" width="3.6" height="34.6" rx="1.8" fill="#ffb400"/>
<rect x="720.7" y="559.6" width="3.6" height="45.5" rx="1.8" fill="#ffb400"/>
<rect x="727.8" y="553.5" width="3.6" height="51.6" rx="1.8" fill="#ffb400"/>
<rect x="734.7" y="549.4" width="3.6" height="55.7" rx="1.8" fill="#ffb400"/>
<rect x="741.8" y="550.7" width="3.6" height="54.4" rx="1.8" fill="#ffb400"/>
<rect x="748.7" y="547.3" width="3.6" height="57.8" rx="1.8" fill="#ffb400"/>
<rect x="755.5" y="550.7" width="3.6" height="54.4" rx="1.8" fill="#ffb400"/>
</g>
<line x1="342.6" y1="545.2" x2="757.4" y2="545.2" stroke="#000" stroke-width="1.3" stroke-dasharray="2.2,1.8" stroke-dashoffset="0.7"/>
<line x1="342.6" y1="564.5" x2="757.4" y2="564.5" stroke="#000" stroke-width="1.3" stroke-dasharray="2.2,1.8" stroke-dashoffset="0.7"/>
<line x1="342.6" y1="583.9" x2="757.4" y2="583.9" stroke="#000" stroke-width="1.3" stroke-dasharray="2.2,1.8" stroke-dashoffset="0.7"/>
<line x1="356.4" y1="525.7" x2="356.4" y2="603.1" stroke="#000" stroke-width="1.3" stroke-dasharray="2.2,1.8"/>
<line x1="377.5" y1="525.7" x2="377.5" y2="603.1" stroke="#000" stroke-width="1.3" stroke-dasharray="2.2,1.8"/>
<line x1="398.61" y1="525.7" x2="398.61" y2="603.1" stroke="#000" stroke-width="1.3" stroke-dasharray="2.2,1.8"/>
<line x1="419.71" y1="525.7" x2="419.71" y2="603.1" stroke="#000" stroke-width="1.3" stroke-dasharray="2.2,1.8"/>
<line x1="440.82" y1="525.7" x2="440.82" y2="603.1" stroke="#000" stroke-width="1.3" stroke-dasharray="2.2,1.8"/>
<line x1="461.92" y1="525.7" x2="461.92" y2="603.1" stroke="#000" stroke-width="1.3" stroke-dasharray="2.2,1.8"/>
<line x1="483.03" y1="525.7" x2="483.03" y2="603.1" stroke="#000" stroke-width="1.3" stroke-dasharray="2.2,1.8"/>
<line x1="504.13" y1="525.7" x2="504.13" y2="603.1" stroke="#000" stroke-width="1.3" stroke-dasharray="2.2,1.8"/>
<line x1="525.24" y1="525.7" x2="525.24" y2="603.1" stroke="#000" stroke-width="1.3" stroke-dasharray="2.2,1.8"/>
<line x1="546.35" y1="525.7" x2="546.35" y2="603.1" stroke="#000" stroke-width="1.3" stroke-dasharray="2.2,1.8"/>
<line x1="567.45" y1="525.7" x2="567.45" y2="603.1" stroke="#000" stroke-width="1.3" stroke-dasharray="2.2,1.8"/>
<line x1="588.55" y1="525.7" x2="588.55" y2="603.1" stroke="#000" stroke-width="1.3" stroke-dasharray="2.2,1.8"/>
<line x1="609.66" y1="525.7" x2="609.66" y2="603.1" stroke="#000" stroke-width="1.3" stroke-dasharray="2.2,1.8"/>
<line x1="630.76" y1="525.7" x2="630.76" y2="603.1" stroke="#000" stroke-width="1.3" stroke-dasharray="2.2,1.8"/>
<line x1="651.87" y1="525.7" x2="651.87" y2="603.1" stroke="#000" stroke-width="1.3" stroke-dasharray="2.2,1.8"/>
<line x1="672.97" y1="525.7" x2="672.97" y2="603.1" stroke="#000" stroke-width="1.3" stroke-dasharray="2.2,1.8"/>
<line x1="694.08" y1="525.7" x2="694.08" y2="603.1" stroke="#000" stroke-width="1.3" stroke-dasharray="2.2,1.8"/>
<line x1="715.18" y1="525.7" x2="715.18" y2="603.1" stroke="#000" stroke-width="1.3" stroke-dasharray="2.2,1.8"/>
<line x1="736.29" y1="525.7" x2="736.29" y2="603.1" stroke="#000" stroke-width="1.3" stroke-dasharray="2.2,1.8"/>
<rect x="342.6" y="525.7" width="414.8" height="77.4" fill="none" stroke="#111" stroke-width="1.4"/>
<rect x="135.6" y="57.8" width="109.9" height="76.5" fill="#fff" />
<rect x="135.6" y="111.2" width="109.9" height="23.1" fill="#87cefa" />
<polygon points="135.4,89.9 142.2,90.6 150.4,94 161.3,98.1 170.9,102.2 179.1,104.2 191.4,105.3 205,105.3 213.2,105.9 226.9,107 233.7,110.4 240.6,105.6 245.6,102.2 245.6,115.4 239.2,118 232.4,122.8 224.2,118.7 217.3,116.6 210.5,118.7 198.2,118 188.6,116.6 179.1,113.9 170.9,111.9 161.3,109.8 150.4,106.4 142.2,103 135.4,102.3" fill="#fde6dc" />
<polygon points="135.4,102.3 142.2,103 150.4,106.4 161.3,109.8 170.9,111.9 179.1,113.9 188.6,116.6 198.2,118 210.5,118.7 217.3,116.6 224.2,118.7 232.4,122.8 239.2,118 245.6,115.4 245.6,122.8 235.1,125.5 226.9,128.3 216,129.6 205,126.9 188.6,121.4 170.9,116 160,113.5 150,111.5 135.4,108.5" fill="#bfe3fa" />
<rect x="170.1" y="57.8" width="61.6" height="76.5" fill="#e9f0fc" style="mix-blend-mode:multiply"/>
<line x1="135.6" y1="59.4" x2="245.5" y2="59.4" stroke="#000" stroke-width="1.3" stroke-dasharray="2.2,1.8" stroke-dashoffset="0.7"/>
<line x1="135.6" y1="77.3" x2="245.5" y2="77.3" stroke="#000" stroke-width="1.3" stroke-dasharray="2.2,1.8" stroke-dashoffset="0.7"/>
<line x1="135.6" y1="94.5" x2="245.5" y2="94.5" stroke="#000" stroke-width="1.3" stroke-dasharray="2.2,1.8" stroke-dashoffset="0.7"/>
<line x1="135.6" y1="111.6" x2="245.5" y2="111.6" stroke="#000" stroke-width="1.3" stroke-dasharray="2.2,1.8" stroke-dashoffset="0.7"/>
<line x1="135.6" y1="129" x2="245.5" y2="129" stroke="#000" stroke-width="1.3" stroke-dasharray="2.2,1.8" stroke-dashoffset="0.7"/>
<line x1="142.6" y1="57.8" x2="142.6" y2="134.3" stroke="#000" stroke-width="1.3" stroke-dasharray="2.2,1.8"/>
<line x1="163.4" y1="57.8" x2="163.4" y2="134.3" stroke="#000" stroke-width="1.3" stroke-dasharray="2.2,1.8"/>
<line x1="184.3" y1="57.8" x2="184.3" y2="134.3" stroke="#000" stroke-width="1.3" stroke-dasharray="2.2,1.8"/>
<line x1="205.4" y1="57.8" x2="205.4" y2="134.3" stroke="#000" stroke-width="1.3" stroke-dasharray="2.2,1.8"/>
<line x1="226.4" y1="57.8" x2="226.4" y2="134.3" stroke="#000" stroke-width="1.3" stroke-dasharray="2.2,1.8"/>
<line x1="142.2" y1="70" x2="142.2" y2="82" stroke="#a01010" stroke-width="1.2" />
<line x1="149.3" y1="78.5" x2="149.3" y2="92" stroke="#a01010" stroke-width="1.2" />
<line x1="156.4" y1="87.2" x2="156.4" y2="99.2" stroke="#a01010" stroke-width="1.2" />
<line x1="163.5" y1="96.6" x2="163.5" y2="106.5" stroke="#a01010" stroke-width="1.2" />
<line x1="170.6" y1="101" x2="170.6" y2="114.6" stroke="#a01010" stroke-width="1.2" />
<line x1="177.5" y1="103" x2="177.5" y2="118.7" stroke="#a01010" stroke-width="1.2" />
<line x1="184.5" y1="104.3" x2="184.5" y2="121.4" stroke="#a01010" stroke-width="1.2" />
<line x1="191.4" y1="107.1" x2="191.4" y2="123.5" stroke="#a01010" stroke-width="1.2" />
<line x1="198.3" y1="107.8" x2="198.3" y2="125.5" stroke="#a01010" stroke-width="1.2" />
<line x1="205.2" y1="108.4" x2="205.2" y2="127.6" stroke="#a01010" stroke-width="1.2" />
<line x1="212.3" y1="109.1" x2="212.3" y2="129.6" stroke="#a01010" stroke-width="1.2" />
<line x1="219.3" y1="110.5" x2="219.3" y2="130.3" stroke="#a01010" stroke-width="1.2" />
<line x1="226.4" y1="111.2" x2="226.4" y2="133.5" stroke="#a01010" stroke-width="1.2" />
<line x1="233.5" y1="111.2" x2="233.5" y2="132.3" stroke="#a01010" stroke-width="1.2" />
<line x1="240.5" y1="105.7" x2="240.5" y2="120.7" stroke="#a01010" stroke-width="1.2" />
<polyline points="135.4,98.9 142.2,99.6 150.4,103 161.3,107.1 170.9,111.2 179.1,113.2 191.4,114.3 205,114.3 213.2,114.9 226.9,116 233.7,119.4 240.6,114.6 245.6,111.2" fill="none" stroke="#ff0000" stroke-width="2.8" stroke-linejoin="round" stroke-linecap="round" />
<polyline points="135.4,102.3 142.2,103 150.4,106.4 161.3,109.8 170.9,111.9 179.1,113.9 188.6,116.6 198.2,118 210.5,118.7 217.3,116.6 224.2,118.7 232.4,122.8 239.2,118 245.6,115.4" fill="none" stroke="#0000ff" stroke-width="2.6" stroke-linejoin="round" stroke-linecap="round" />
<rect x="140.9" y="112.1" width="2.6" height="2.6" fill="#6a5acd" />
<rect x="148" y="112.1" width="2.6" height="2.6" fill="#6a5acd" />
<rect x="155.1" y="112.1" width="2.6" height="2.6" fill="#6a5acd" />
<rect x="162.2" y="112.1" width="2.6" height="2.6" fill="#6a5acd" />
<rect x="169.3" y="111.73" width="2.6" height="2.6" fill="#6a5acd" />
<rect x="176.2" y="113.41" width="2.6" height="2.6" fill="#6a5acd" />
<rect x="183.2" y="115.33" width="2.6" height="2.6" fill="#6a5acd" />
<rect x="190.1" y="116.91" width="2.6" height="2.6" fill="#6a5acd" />
<rect x="197" y="117.91" width="2.6" height="2.6" fill="#6a5acd" />
<rect x="203.9" y="118.3" width="2.6" height="2.6" fill="#6a5acd" />
<rect x="211" y="118.04" width="2.6" height="2.6" fill="#6a5acd" />
<rect x="218" y="117.11" width="2.6" height="2.6" fill="#6a5acd" />
<rect x="225.1" y="119.7" width="2.6" height="2.6" fill="#6a5acd" />
<rect x="232.2" y="121.92" width="2.6" height="2.6" fill="#6a5acd" />
<rect x="239.2" y="117.37" width="2.6" height="2.6" fill="#6a5acd" />
<rect x="135.6" y="57.8" width="109.9" height="76.5" fill="none" stroke="#111" stroke-width="1.4"/>
<rect x="135.6" y="143.6" width="109.9" height="76.8" fill="#fff" />
<rect x="170.1" y="143.6" width="61.6" height="76.8" fill="#e9f0fc" style="mix-blend-mode:multiply"/>
<rect x="135.5" y="186.5" width="8" height="33.9" fill="#00a800" />
<rect x="143.5" y="181" width="5.5" height="39.4" fill="#00a800" />
<rect x="149" y="179" width="8" height="41.4" fill="#00a800" />
<rect x="157" y="201.6" width="7" height="18.8" fill="#00a800" />
<rect x="164" y="208" width="5.6" height="12.4" fill="#00a800" />
<rect x="169.6" y="218.2" width="7.2" height="2.2" fill="#00a800" />
<rect x="157" y="182.1" width="7" height="19.5" fill="#0a2ed0" />
<rect x="164" y="204.8" width="5.6" height="3.2" fill="#0a2ed0" />
<line x1="135.6" y1="150.5" x2="245.5" y2="150.5" stroke="#000" stroke-width="1.3" stroke-dasharray="2.2,1.8" stroke-dashoffset="0.7"/>
<line x1="135.6" y1="168.3" x2="245.5" y2="168.3" stroke="#000" stroke-width="1.3" stroke-dasharray="2.2,1.8" stroke-dashoffset="0.7"/>
<line x1="135.6" y1="185.7" x2="245.5" y2="185.7" stroke="#000" stroke-width="1.3" stroke-dasharray="2.2,1.8" stroke-dashoffset="0.7"/>
<line x1="135.6" y1="203.2" x2="245.5" y2="203.2" stroke="#000" stroke-width="1.3" stroke-dasharray="2.2,1.8" stroke-dashoffset="0.7"/>
<line x1="143.5" y1="143.6" x2="143.5" y2="220.4" stroke="#000" stroke-width="1.3" stroke-dasharray="2.2,1.8"/>
<line x1="164.6" y1="143.6" x2="164.6" y2="220.4" stroke="#000" stroke-width="1.3" stroke-dasharray="2.2,1.8"/>
<line x1="184.5" y1="143.6" x2="184.5" y2="220.4" stroke="#000" stroke-width="1.3" stroke-dasharray="2.2,1.8"/>
<line x1="204.5" y1="143.6" x2="204.5" y2="220.4" stroke="#000" stroke-width="1.3" stroke-dasharray="2.2,1.8"/>
<line x1="225.5" y1="143.6" x2="225.5" y2="220.4" stroke="#000" stroke-width="1.3" stroke-dasharray="2.2,1.8"/>
<line x1="139.5" y1="165.5" x2="139.5" y2="186.5" stroke="#00a800" stroke-width="1.3" />
<line x1="146.6" y1="146.5" x2="146.6" y2="181" stroke="#00a800" stroke-width="1.3" />
<line x1="153.5" y1="146.5" x2="153.5" y2="179" stroke="#00a800" stroke-width="1.3" />
<line x1="160.6" y1="171.5" x2="160.6" y2="182.1" stroke="#0a2ed0" stroke-width="1.3" />
<rect x="145.3" y="145.6" width="2.6" height="2.6" fill="#ff0000" />
<rect x="152.2" y="145.6" width="2.6" height="2.6" fill="#ff0000" />
<circle cx="139.2" cy="173" r="2.6" fill="#ffff00" stroke="#8a4000" stroke-width="0.8"/>
<circle cx="146.3" cy="173" r="2.6" fill="#ffa500" stroke="#8a4000" stroke-width="0.8"/>
<circle cx="153.5" cy="173" r="2.6" fill="#ff0000" stroke="#8a4000" stroke-width="0.8"/>
<line x1="137" y1="219.8" x2="141" y2="219.8" stroke="#ff0000" stroke-width="1.3" />
<line x1="147.5" y1="219.8" x2="150.5" y2="219.8" stroke="#ff0000" stroke-width="1.3" />
<line x1="153" y1="219.8" x2="156" y2="219.8" stroke="#ff0000" stroke-width="1.3" />
<line x1="159.5" y1="219.8" x2="162" y2="219.8" stroke="#ff0000" stroke-width="1.3" />
<polyline points="136.3,172.3 142.7,168.3 150.6,158.8 157,154.8 164.9,152.8 185.5,152.8 193.4,149 198.2,149.3 204.5,154.8 212.4,155.6 223.5,150 229.9,150.9 237.8,155.6 245.4,164.3" fill="none" stroke="#e8501c" stroke-width="2.4" stroke-linejoin="round" stroke-linecap="round" />
<rect x="135.6" y="143.6" width="109.9" height="76.8" fill="none" stroke="#111" stroke-width="1.4"/>
<rect x="135.6" y="229.5" width="109.9" height="76.6" fill="#fff" />
<rect x="170.1" y="229.5" width="61.6" height="76.6" fill="#e9f0fc" style="mix-blend-mode:multiply"/>
<clipPath id="lprc"><polygon points="135.5,260 142.7,260 150.6,252.9 157.7,248.9 164.1,248.9 170.9,245.5 177.6,248.9 183.9,250.5 191.8,253.7 225.1,253.7 233,257.7 245.4,264.8 245.5,306.1 135.6,306.1"/></clipPath>
<g clip-path="url(#lprc)">
<rect x="135.6" y="229.5" width="109.9" height="76.6" fill="#ffff00" />
<rect x="164.9" y="229.5" width="4.7" height="76.6" fill="#ffd700" />
</g>
<line x1="135.6" y1="231.2" x2="245.5" y2="231.2" stroke="#000" stroke-width="1.3" stroke-dasharray="2.2,1.8" stroke-dashoffset="0.7"/>
<line x1="135.6" y1="254.5" x2="245.5" y2="254.5" stroke="#000" stroke-width="1.3" stroke-dasharray="2.2,1.8" stroke-dashoffset="0.7"/>
<line x1="135.6" y1="278.3" x2="245.5" y2="278.3" stroke="#000" stroke-width="1.3" stroke-dasharray="2.2,1.8" stroke-dashoffset="0.7"/>
<line x1="135.6" y1="301.3" x2="245.5" y2="301.3" stroke="#000" stroke-width="1.3" stroke-dasharray="2.2,1.8" stroke-dashoffset="0.7"/>
<line x1="143.5" y1="229.5" x2="143.5" y2="306.1" stroke="#000" stroke-width="1.3" stroke-dasharray="2.2,1.8"/>
<line x1="164.6" y1="229.5" x2="164.6" y2="306.1" stroke="#000" stroke-width="1.3" stroke-dasharray="2.2,1.8"/>
<line x1="184.5" y1="229.5" x2="184.5" y2="306.1" stroke="#000" stroke-width="1.3" stroke-dasharray="2.2,1.8"/>
<line x1="204.5" y1="229.5" x2="204.5" y2="306.1" stroke="#000" stroke-width="1.3" stroke-dasharray="2.2,1.8"/>
<line x1="225.5" y1="229.5" x2="225.5" y2="306.1" stroke="#000" stroke-width="1.3" stroke-dasharray="2.2,1.8"/>
<polyline points="135.5,260 142.7,260 150.6,252.9 157.7,248.9 164.1,248.9 170.9,245.5 177.6,248.9 183.9,250.5 191.8,253.7 225.1,253.7 233,257.7 245.4,264.8" fill="none" stroke="#000" stroke-width="2.2" stroke-linejoin="round" stroke-linecap="round" />
<rect x="135.6" y="229.5" width="109.9" height="76.6" fill="none" stroke="#111" stroke-width="1.4"/>
<rect x="135.6" y="315.1" width="109.9" height="76.9" fill="#fff" />
<rect x="170.1" y="315.1" width="61.6" height="76.9" fill="#e9f0fc" style="mix-blend-mode:multiply"/>
<clipPath id="lwc"><polygon points="135.5,364.3 142.7,368.2 153.8,371.1 168,373.3 180.7,375.4 196.6,372.2 225.1,372.2 233,369.8 245.4,369 245.5,392 135.6,392"/></clipPath>
<g clip-path="url(#lwc)">
<rect x="135.5" y="315.1" width="13" height="76.9" fill="#22cc22" />
<rect x="148.2" y="315.1" width="20.9" height="76.9" fill="#007a00" />
<rect x="168.8" y="315.1" width="28.9" height="76.9" fill="#0d4d8c" />
<rect x="197.4" y="315.1" width="13.7" height="76.9" fill="#007a00" />
<rect x="210.8" y="315.1" width="14.6" height="76.9" fill="#0d4d8c" />
<rect x="225.1" y="315.1" width="14.6" height="76.9" fill="#007a00" />
<rect x="239.4" y="315.1" width="6.4" height="76.9" fill="#22cc22" />
</g>
<line x1="135.6" y1="317" x2="245.5" y2="317" stroke="#000" stroke-width="1.3" stroke-dasharray="2.2,1.8" stroke-dashoffset="0.7"/>
<line x1="135.6" y1="334.2" x2="245.5" y2="334.2" stroke="#000" stroke-width="1.3" stroke-dasharray="2.2,1.8" stroke-dashoffset="0.7"/>
<line x1="135.6" y1="354.3" x2="245.5" y2="354.3" stroke="#000" stroke-width="1.3" stroke-dasharray="2.2,1.8" stroke-dashoffset="0.7"/>
<line x1="135.6" y1="373" x2="245.5" y2="373" stroke="#000" stroke-width="1.3" stroke-dasharray="2.2,1.8" stroke-dashoffset="0.7"/>
<line x1="143.5" y1="315.1" x2="143.5" y2="392" stroke="#000" stroke-width="1.3" stroke-dasharray="2.2,1.8"/>
<line x1="164.6" y1="315.1" x2="164.6" y2="392" stroke="#000" stroke-width="1.3" stroke-dasharray="2.2,1.8"/>
<line x1="184.5" y1="315.1" x2="184.5" y2="392" stroke="#000" stroke-width="1.3" stroke-dasharray="2.2,1.8"/>
<line x1="204.5" y1="315.1" x2="204.5" y2="392" stroke="#000" stroke-width="1.3" stroke-dasharray="2.2,1.8"/>
<line x1="225.5" y1="315.1" x2="225.5" y2="392" stroke="#000" stroke-width="1.3" stroke-dasharray="2.2,1.8"/>
<line x1="143.5" y1="340.5" x2="149" y2="340.5" stroke="#ff0000" stroke-width="1.2" />
<line x1="148.2" y1="347.6" x2="161.7" y2="347.6" stroke="#ff0000" stroke-width="1.2" />
<line x1="161.7" y1="351.3" x2="169.6" y2="351.3" stroke="#ff0000" stroke-width="1.2" />
<line x1="169.6" y1="355.3" x2="177.6" y2="355.3" stroke="#ff0000" stroke-width="1.2" />
<line x1="176" y1="358.4" x2="184.7" y2="358.4" stroke="#ff0000" stroke-width="1.2" />
<line x1="184.7" y1="354.5" x2="189.4" y2="354.5" stroke="#ff0000" stroke-width="1.2" />
<line x1="190.2" y1="351.1" x2="196.6" y2="351.1" stroke="#ff0000" stroke-width="1.2" />
<line x1="196.6" y1="350.3" x2="210.8" y2="350.3" stroke="#ff0000" stroke-width="1.2" />
<line x1="210.8" y1="351.3" x2="225.1" y2="351.3" stroke="#ff0000" stroke-width="1.2" />
<line x1="225.1" y1="347.3" x2="233" y2="347.3" stroke="#ff0000" stroke-width="1.2" />
<line x1="233" y1="342.6" x2="245.4" y2="342.6" stroke="#ff0000" stroke-width="1.2" />
<polyline points="135.5,364.3 142.7,368.2 153.8,371.1 168,373.3 180.7,375.4 196.6,372.2 225.1,372.2 233,369.8 245.4,369" fill="none" stroke="#0a0a8c" stroke-width="2.4" stroke-linejoin="round" stroke-linecap="round" />
<polygon points="138.7,316.3 136.8,319.5 140.6,319.5" fill="#ff0000" />
<rect x="135.6" y="315.1" width="109.9" height="76.9" fill="none" stroke="#111" stroke-width="1.4"/>
<rect x="135.6" y="398.3" width="109.9" height="31.7" fill="#fff" />
<rect x="170.1" y="398.3" width="61.6" height="31.7" fill="#e9f0fc" style="mix-blend-mode:multiply"/>
<line x1="143.5" y1="398.3" x2="143.5" y2="430" stroke="#000" stroke-width="1.3" stroke-dasharray="2.2,1.8"/>
<line x1="164.6" y1="398.3" x2="164.6" y2="430" stroke="#000" stroke-width="1.3" stroke-dasharray="2.2,1.8"/>
<line x1="184.5" y1="398.3" x2="184.5" y2="430" stroke="#000" stroke-width="1.3" stroke-dasharray="2.2,1.8"/>
<line x1="204.5" y1="398.3" x2="204.5" y2="430" stroke="#000" stroke-width="1.3" stroke-dasharray="2.2,1.8"/>
<line x1="225.5" y1="398.3" x2="225.5" y2="430" stroke="#000" stroke-width="1.3" stroke-dasharray="2.2,1.8"/>
<clipPath id="ldc"><rect x="135.6" y="398.3" width="117.9" height="31.7"/></clipPath>
<g clip-path="url(#ldc)">
<line x1="141.51" y1="406.96" x2="145.45" y2="417.76" stroke="#0a0a9a" stroke-width="1.3" />
<polygon points="147.5,423.4 142.91,418.69 147.99,416.84" fill="#0a0a9a" />
<line x1="148.31" y1="406.96" x2="152.25" y2="417.76" stroke="#0a0a9a" stroke-width="1.3" />
<polygon points="154.3,423.4 149.71,418.69 154.79,416.84" fill="#0a0a9a" />
<line x1="155.11" y1="406.96" x2="159.05" y2="417.76" stroke="#0a0a9a" stroke-width="1.3" />
<polygon points="161.1,423.4 156.51,418.69 161.59,416.84" fill="#0a0a9a" />
<line x1="161.91" y1="406.96" x2="165.85" y2="417.76" stroke="#0a0a9a" stroke-width="1.3" />
<polygon points="167.9,423.4 163.31,418.69 168.39,416.84" fill="#0a0a9a" />
<line x1="168.71" y1="406.96" x2="172.65" y2="417.76" stroke="#0a0a9a" stroke-width="1.3" />
<polygon points="174.7,423.4 170.11,418.69 175.19,416.84" fill="#0a0a9a" />
<line x1="175.51" y1="406.96" x2="179.45" y2="417.76" stroke="#0a0a9a" stroke-width="1.3" />
<polygon points="181.5,423.4 176.91,418.69 181.99,416.84" fill="#0a0a9a" />
<line x1="182.31" y1="406.96" x2="186.25" y2="417.76" stroke="#0a0a9a" stroke-width="1.3" />
<polygon points="188.3,423.4 183.71,418.69 188.79,416.84" fill="#0a0a9a" />
<line x1="189.11" y1="406.96" x2="193.05" y2="417.76" stroke="#0a0a9a" stroke-width="1.3" />
<polygon points="195.1,423.4 190.51,418.69 195.59,416.84" fill="#0a0a9a" />
<line x1="195.91" y1="406.96" x2="199.85" y2="417.76" stroke="#0a0a9a" stroke-width="1.3" />
<polygon points="201.9,423.4 197.31,418.69 202.39,416.84" fill="#0a0a9a" />
<line x1="202.71" y1="406.96" x2="206.65" y2="417.76" stroke="#0a0a9a" stroke-width="1.3" />
<polygon points="208.7,423.4 204.11,418.69 209.19,416.84" fill="#0a0a9a" />
<line x1="209.51" y1="406.96" x2="213.45" y2="417.76" stroke="#0a0a9a" stroke-width="1.3" />
<polygon points="215.5,423.4 210.91,418.69 215.99,416.84" fill="#0a0a9a" />
<line x1="216.31" y1="406.96" x2="220.25" y2="417.76" stroke="#0a0a9a" stroke-width="1.3" />
<polygon points="222.3,423.4 217.71,418.69 222.79,416.84" fill="#0a0a9a" />
<line x1="223.11" y1="406.96" x2="227.05" y2="417.76" stroke="#0a0a9a" stroke-width="1.3" />
<polygon points="229.1,423.4 224.51,418.69 229.59,416.84" fill="#0a0a9a" />
<line x1="229.91" y1="406.96" x2="233.85" y2="417.76" stroke="#0a0a9a" stroke-width="1.3" />
<polygon points="235.9,423.4 231.31,418.69 236.39,416.84" fill="#0a0a9a" />
<line x1="236.71" y1="406.96" x2="240.65" y2="417.76" stroke="#0a0a9a" stroke-width="1.3" />
<polygon points="242.7,423.4 238.11,418.69 243.19,416.84" fill="#0a0a9a" />
<line x1="135.11" y1="418.28" x2="136.09" y2="418.46" stroke="#0a0a9a" stroke-width="1.3" />
<polygon points="142,419.5 135.62,421.12 136.56,415.8" fill="#0a0a9a" />
<line x1="243.03" y1="419.09" x2="244.02" y2="419.18" stroke="#0a0a9a" stroke-width="1.3" />
<polygon points="250,419.7 243.79,421.87 244.26,416.49" fill="#0a0a9a" />
</g>
<rect x="135.6" y="398.3" width="109.9" height="31.7" fill="none" stroke="#111" stroke-width="1.4"/>
<rect x="135.6" y="436.4" width="109.9" height="77.4" fill="#87cefa" />
<rect x="170.1" y="436.4" width="61.6" height="77.4" fill="#e0e6f0" style="mix-blend-mode:multiply"/>
<line x1="135.6" y1="456.4" x2="245.5" y2="456.4" stroke="#000" stroke-width="1.3" stroke-dasharray="2.2,1.8" stroke-dashoffset="0.7"/>
<line x1="135.6" y1="475.4" x2="245.5" y2="475.4" stroke="#000" stroke-width="1.3" stroke-dasharray="2.2,1.8" stroke-dashoffset="0.7"/>
<line x1="135.6" y1="495.1" x2="245.5" y2="495.1" stroke="#000" stroke-width="1.3" stroke-dasharray="2.2,1.8" stroke-dashoffset="0.7"/>
<line x1="143.5" y1="436.4" x2="143.5" y2="513.8" stroke="#000" stroke-width="1.3" stroke-dasharray="2.2,1.8"/>
<line x1="164.6" y1="436.4" x2="164.6" y2="513.8" stroke="#000" stroke-width="1.3" stroke-dasharray="2.2,1.8"/>
<line x1="184.5" y1="436.4" x2="184.5" y2="513.8" stroke="#000" stroke-width="1.3" stroke-dasharray="2.2,1.8"/>
<line x1="204.5" y1="436.4" x2="204.5" y2="513.8" stroke="#000" stroke-width="1.3" stroke-dasharray="2.2,1.8"/>
<line x1="225.5" y1="436.4" x2="225.5" y2="513.8" stroke="#000" stroke-width="1.3" stroke-dasharray="2.2,1.8"/>
<clipPath id="lcbc"><rect x="135.6" y="436.4" width="109.9" height="77.4"/></clipPath>
<g clip-path="url(#lcbc)">
<polyline points="135.5,471 143.5,471 150.6,465.9 161.7,463.8 177.6,463.8 184.7,467 193.4,471 201.3,471 209.3,471.8 217.2,474.9 231.5,474.1 237.8,471.8 245.4,469.4" fill="none" stroke="#ffa000" stroke-width="2.2" stroke-linejoin="round" stroke-linecap="round" />
<circle cx="137.1" cy="475.4" r="2.5" fill="#b22222" />
<circle cx="143.5" cy="475.4" r="2.5" fill="#b22222" />
<circle cx="150.3" cy="458.3" r="2.5" fill="#b22222" />
<circle cx="157.3" cy="458.3" r="2.5" fill="#b22222" />
<circle cx="164.1" cy="459.6" r="2.5" fill="#b22222" />
<circle cx="170.7" cy="451.2" r="2.5" fill="#b22222" />
<circle cx="177.6" cy="449.3" r="2.5" fill="#b22222" />
<circle cx="184.4" cy="449.3" r="2.5" fill="#b22222" />
<circle cx="191.4" cy="449.3" r="2.5" fill="#b22222" />
<circle cx="198.2" cy="451.2" r="2.5" fill="#b22222" />
<circle cx="204.5" cy="449.3" r="2.5" fill="#b22222" />
<circle cx="211.3" cy="449.3" r="2.5" fill="#b22222" />
<circle cx="218.3" cy="449.3" r="2.5" fill="#b22222" />
<circle cx="225.1" cy="449.3" r="2.5" fill="#b22222" />
<circle cx="232.2" cy="449.3" r="2.5" fill="#b22222" />
<circle cx="239.4" cy="449.3" r="2.5" fill="#b22222" />
<circle cx="244.2" cy="449.3" r="2.5" fill="#b22222" />
<circle cx="143.5" cy="481.5" r="2.4" fill="#505050" />
<circle cx="143.5" cy="500.5" r="2.4" fill="#a0a0a0" />
<circle cx="143.5" cy="504.5" r="2.4" fill="#e0e0e0" />
<circle cx="137.1" cy="504.5" r="2.4" fill="#d0d0d0" />
<circle cx="150.3" cy="492" r="2.4" fill="#606060" />
<circle cx="150.3" cy="500" r="2.4" fill="#ffffff" />
<circle cx="157.3" cy="492" r="2.4" fill="#606060" />
<circle cx="164.1" cy="492" r="2.4" fill="#606060" />
<circle cx="164.1" cy="499.3" r="2.4" fill="#ffffff" />
<circle cx="170.7" cy="489.5" r="2.4" fill="#d0d0d0" />
<circle cx="177.6" cy="489.5" r="2.4" fill="#a0a0a0" />
<circle cx="184.4" cy="489.5" r="2.4" fill="#000" />
<circle cx="191.4" cy="489.5" r="2.4" fill="#808080" />
<circle cx="198.2" cy="489.5" r="2.4" fill="#d0d0d0" />
<circle cx="198.2" cy="485" r="2.4" fill="#a0a0a0" />
<circle cx="205.3" cy="492.5" r="2.4" fill="#ffffff" />
<circle cx="184.4" cy="500" r="2.4" fill="#606060" />
<circle cx="184.4" cy="504" r="2.4" fill="#a0a0a0" />
<circle cx="184.4" cy="509" r="2.4" fill="#fff" />
<circle cx="191.4" cy="500.5" r="2.4" fill="#fff" />
<circle cx="198.2" cy="489.5" r="2.4" fill="#ddd" />
<circle cx="211.3" cy="483" r="2.4" fill="#606060" />
<circle cx="211.3" cy="486" r="2.4" fill="#a0a0a0" />
<circle cx="211.3" cy="489.5" r="2.4" fill="#ddd" />
<circle cx="218.3" cy="489" r="2.4" fill="#808080" />
<circle cx="218.3" cy="492" r="2.4" fill="#ddd" />
<circle cx="218.3" cy="481" r="2.4" fill="#000" />
<circle cx="225.1" cy="485" r="2.4" fill="#000" />
<circle cx="225.1" cy="492" r="2.4" fill="#606060" />
<circle cx="232.2" cy="489.5" r="2.4" fill="#000" />
<circle cx="232.2" cy="493" r="2.4" fill="#808080" />
<circle cx="239.4" cy="494" r="2.4" fill="#a0a0a0" />
<circle cx="198.2" cy="465.8" r="2.4" fill="#000" />
<circle cx="205.3" cy="468.8" r="2.4" fill="#000" />
<circle cx="210.5" cy="470.2" r="2.4" fill="#000" />
<circle cx="225.1" cy="472" r="2.4" fill="#000" />
<circle cx="239.4" cy="481" r="2.4" fill="#000" />
<circle cx="244.7" cy="476" r="2.4" fill="#000" />
<circle cx="244.7" cy="481" r="2.4" fill="#a0a0a0" />
<circle cx="218.3" cy="500" r="2.4" fill="#d0d0d0" />
<circle cx="225.1" cy="500" r="2.4" fill="#d0d0d0" />
<circle cx="232.2" cy="500" r="2.4" fill="#a0a0a0" />
<circle cx="239.4" cy="500" r="2.4" fill="#d0d0d0" />
<circle cx="218.3" cy="509" r="2.4" fill="#fff" />
<circle cx="225.1" cy="509" r="2.4" fill="#fff" />
<circle cx="232.2" cy="509" r="2.4" fill="#fff" />
<circle cx="239.4" cy="509" r="2.4" fill="#fff" />
<circle cx="191.4" cy="456.7" r="2.6" fill="#000" />
</g>
<rect x="135.6" y="436.4" width="109.9" height="77.4" fill="none" stroke="#111" stroke-width="1.4"/>
<clipPath id="lkc"><rect x="135.6" y="523.7" width="109.9" height="77.7"/></clipPath>
<g clip-path="url(#lkc)">
<rect x="135.6" y="523.7" width="109.9" height="77.7" fill="#87cefa" />
<rect x="170.1" y="523.7" width="61.4" height="77.7" fill="#7ebdee" />
<polygon points="166,602.4 166.7,589.5 170.1,578.4 174.3,568 179.9,564.5 184.7,563.8 188.9,553.4 192.4,547.8 198,545 203.5,543.6 206.3,538.1 209.8,529.7 216,524.9 231.3,523.4 245.6,523.4 245.6,602.4" fill="#ffffff" />
<polygon points="193,602.4 193,572.8 195.2,545 197.3,531.1 202.1,533.2 206.3,533.2 209.8,529.7 216,526.3 231.3,525.6 234.1,524.2 245.6,524.2 245.6,602.4" fill="#9a9a9a" />
<polygon points="135.5,602.4 135.5,575.6 143.5,563.1 150,576.3 156.9,583.3 166,588.1 175.7,592.3 179.9,581.2 184.7,568.7 191,569.4 193.1,572.8 195.2,579.8 198,586.7 204.2,595.8 209.1,585.3 213.9,568.7 217.4,549.2 221.6,539.5 225.8,535.3 231.3,538.1 236.9,550.6 242.4,561.7 245.6,567.3 245.6,602.4" fill="#555555" />
<polygon points="136.8,602.4 142.3,595.1 149.3,590.9 156.2,595.1 163.9,602.4" fill="#2e2e2e" />
<polyline points="135.7,588.1 141,593 147.9,600" fill="none" stroke="#c8c8c8" stroke-width="1" stroke-linejoin="round" stroke-linecap="round" />
<polyline points="184.7,601 188,588 192.4,572.8 195,560" fill="none" stroke="#c0c0c0" stroke-width="1" stroke-linejoin="round" stroke-linecap="round" />
<polyline points="231.3,523.6 236,528 243.2,538.1 245.6,543.6" fill="none" stroke="#ffffff" stroke-width="1.4" stroke-linejoin="round" stroke-linecap="round" />
<rect x="216.9" y="590.2" width="3" height="14" rx="1.5" fill="#ffb400"/>
<rect x="223.8" y="590.2" width="3" height="14" rx="1.5" fill="#ffb400"/>
<rect x="230.9" y="590.2" width="3" height="14" rx="1.5" fill="#ffb400"/>
<rect x="238.2" y="590.2" width="3" height="14" rx="1.5" fill="#ffb400"/>
</g>
<line x1="135.6" y1="543.5" x2="245.5" y2="543.5" stroke="#000" stroke-width="1.3" stroke-dasharray="2.2,1.8" stroke-dashoffset="0.7"/>
<line x1="135.6" y1="562.8" x2="245.5" y2="562.8" stroke="#000" stroke-width="1.3" stroke-dasharray="2.2,1.8" stroke-dashoffset="0.7"/>
<line x1="135.6" y1="582.4" x2="245.5" y2="582.4" stroke="#000" stroke-width="1.3" stroke-dasharray="2.2,1.8" stroke-dashoffset="0.7"/>
<line x1="143.5" y1="523.7" x2="143.5" y2="601.4" stroke="#000" stroke-width="1.3" stroke-dasharray="2.2,1.8"/>
<line x1="164.6" y1="523.7" x2="164.6" y2="601.4" stroke="#000" stroke-width="1.3" stroke-dasharray="2.2,1.8"/>
<line x1="184.5" y1="523.7" x2="184.5" y2="601.4" stroke="#000" stroke-width="1.3" stroke-dasharray="2.2,1.8"/>
<line x1="204.5" y1="523.7" x2="204.5" y2="601.4" stroke="#000" stroke-width="1.3" stroke-dasharray="2.2,1.8"/>
<line x1="225.5" y1="523.7" x2="225.5" y2="601.4" stroke="#000" stroke-width="1.3" stroke-dasharray="2.2,1.8"/>
<rect x="135.6" y="523.7" width="109.9" height="77.7" fill="none" stroke="#111" stroke-width="1.4"/>
<polyline points="68.3,16.6 133.2,16.6 155.3,44.4" fill="none" stroke="#000" stroke-width="1" stroke-linejoin="round" stroke-linecap="round" stroke-linecap="butt"/>
<polyline points="102.1,44.4 119.5,44.4 149.1,83.5" fill="none" stroke="#b01010" stroke-width="1" stroke-linejoin="round" stroke-linecap="round" stroke-linecap="butt"/>
<polyline points="92.2,76.6 114.4,76.6" fill="none" stroke="#ff0000" stroke-width="1" stroke-linejoin="round" stroke-linecap="round" stroke-linecap="butt"/>
<polyline points="130.2,75.9 133.9,77.4 170.3,110.8" fill="none" stroke="#ff0000" stroke-width="1" stroke-linejoin="round" stroke-linecap="round" stroke-linecap="butt"/>
<polyline points="70,99.3 133.2,99.3 136.6,102" fill="none" stroke="#0000ff" stroke-width="1" stroke-linejoin="round" stroke-linecap="round" stroke-linecap="butt"/>
<polyline points="95.6,120.1 131.5,120.1 142.3,113" fill="none" stroke="#6a5acd" stroke-width="1" stroke-linejoin="round" stroke-linecap="round" stroke-linecap="butt"/>
<polyline points="102.9,137.8 140.3,137.6 145.9,146.1" fill="none" stroke="#ff0000" stroke-width="1" stroke-linejoin="round" stroke-linecap="round" stroke-linecap="butt"/>
<polyline points="106.3,151.3 111.6,151.3" fill="none" stroke="#e8501c" stroke-width="1" stroke-linejoin="round" stroke-linecap="round" stroke-linecap="butt"/>
<polyline points="129.9,151.3 147.4,160.4" fill="none" stroke="#e8501c" stroke-width="1" stroke-linejoin="round" stroke-linecap="round" stroke-linecap="butt"/>
<polyline points="94.1,166.6 112.4,166.6" fill="none" stroke="#000" stroke-width="1" stroke-linejoin="round" stroke-linecap="round" stroke-linecap="butt"/>
<polyline points="129,166.2 137.1,171.5" fill="none" stroke="#000" stroke-width="1" stroke-linejoin="round" stroke-linecap="round" stroke-linecap="butt"/>
<polyline points="71.5,179.3 139.5,179.3" fill="none" stroke="#10b010" stroke-width="1" stroke-linejoin="round" stroke-linecap="round" stroke-linecap="butt"/>
<polyline points="80.2,190.1 137,190.1" fill="none" stroke="#10b010" stroke-width="1" stroke-linejoin="round" stroke-linecap="round" stroke-linecap="butt"/>
<polyline points="70.6,202 111.6,202" fill="none" stroke="#2040d0" stroke-width="1" stroke-linejoin="round" stroke-linecap="round" stroke-linecap="butt"/>
<polyline points="129.9,202 160.1,172.3" fill="none" stroke="#2040d0" stroke-width="1" stroke-linejoin="round" stroke-linecap="round" stroke-linecap="butt"/>
<polyline points="81.1,213.3 131.6,213.3 157,188.1" fill="none" stroke="#2040d0" stroke-width="1" stroke-linejoin="round" stroke-linecap="round" stroke-linecap="butt"/>
<polyline points="96.8,225.2 143.5,225.4 148.2,219.8" fill="none" stroke="#ff0000" stroke-width="1" stroke-linejoin="round" stroke-linecap="round" stroke-linecap="butt"/>
<polyline points="51.2,264.4 131.5,264.4 137,261" fill="none" stroke="#000" stroke-width="1" stroke-linejoin="round" stroke-linecap="round" stroke-linecap="butt"/>
<polyline points="112.7,334.4 117.8,334.4" fill="none" stroke="#ff0000" stroke-width="1" stroke-linejoin="round" stroke-linecap="round" stroke-linecap="butt"/>
<polyline points="130.6,334.9 138.7,316.7" fill="none" stroke="#ff0000" stroke-width="1" stroke-linejoin="round" stroke-linecap="round" stroke-linecap="butt"/>
<polyline points="106.7,348.5 131.5,348.5 143.5,340.5" fill="none" stroke="#ff0000" stroke-width="1" stroke-linejoin="round" stroke-linecap="round" stroke-linecap="butt"/>
<polyline points="92.2,367.3 137,367.3" fill="none" stroke="#101090" stroke-width="1" stroke-linejoin="round" stroke-linecap="round" stroke-linecap="butt"/>
<polyline points="86,410.3 141.1,410.3" fill="none" stroke="#101090" stroke-width="1" stroke-linejoin="round" stroke-linecap="round" stroke-linecap="butt"/>
<polyline points="100.3,430.2 130,430.5 183.9,447.2" fill="none" stroke="#b01010" stroke-width="1" stroke-linejoin="round" stroke-linecap="round" stroke-linecap="butt"/>
<polyline points="57.3,468.3 130,468.1 191,456.7" fill="none" stroke="#000" stroke-width="1" stroke-linejoin="round" stroke-linecap="round" stroke-linecap="butt"/>
<polyline points="57.3,480.4 143.5,480.5" fill="none" stroke="#505050" stroke-width="1" stroke-linejoin="round" stroke-linecap="round" stroke-linecap="butt"/>
<polyline points="57.3,490.3 131,490.3 140,497" fill="none" stroke="#a0a0a0" stroke-width="1" stroke-linejoin="round" stroke-linecap="round" stroke-linecap="butt"/>
<polyline points="57.3,500.5 131,500.5 137.1,505.8" fill="none" stroke="#d8d8d8" stroke-width="1" stroke-linejoin="round" stroke-linecap="round" stroke-linecap="butt"/>
<polyline points="57.3,510.2 140,510.2" fill="none" stroke="#87cefa" stroke-width="1" stroke-linejoin="round" stroke-linecap="round" stroke-linecap="butt"/>
<polyline points="57.3,512.4 140,512.4" fill="none" stroke="#87cefa" stroke-width="1" stroke-linejoin="round" stroke-linecap="round" stroke-linecap="butt"/>
<polyline points="67.5,527.2 128,527.2 135,515.8 174.4,464.6" fill="none" stroke="#ff8c00" stroke-width="1" stroke-linejoin="round" stroke-linecap="round" stroke-linecap="butt"/>
<polyline points="54.2,556.4 135,556.4" fill="none" stroke="#87cefa" stroke-width="1" stroke-linejoin="round" stroke-linecap="round" stroke-linecap="butt"/>
<polyline points="54.2,558.7 135,558.7" fill="none" stroke="#87cefa" stroke-width="1" stroke-linejoin="round" stroke-linecap="round" stroke-linecap="butt"/>
<polyline points="135,557.5 185,557.5" fill="none" stroke="#ffffff" stroke-width="1.6" stroke-linejoin="round" stroke-linecap="round" stroke-linecap="butt"/>
<polyline points="49.1,571.2 192.4,571.2" fill="none" stroke="#a0a0a0" stroke-width="1.2" stroke-linejoin="round" stroke-linecap="round" stroke-linecap="butt"/>
<polyline points="40,582.4 121.8,582.4" fill="none" stroke="#404040" stroke-width="1" stroke-linejoin="round" stroke-linecap="round" stroke-linecap="butt"/>
<polyline points="131,582.4 140,582.4" fill="none" stroke="#404040" stroke-width="1" stroke-linejoin="round" stroke-linecap="round" stroke-linecap="butt"/>
<polyline points="74,594.1 140,594.1" fill="none" stroke="#202020" stroke-width="1" stroke-linejoin="round" stroke-linecap="round" stroke-linecap="butt"/>
<polyline points="30.3,605.5 217.2,605.5 218.8,600.6" fill="none" stroke="#f0b000" stroke-width="1" stroke-linejoin="round" stroke-linecap="round" stroke-linecap="butt"/>
<polyline points="138.2,622.4 143.3,622.4 157,608" fill="none" stroke="#000" stroke-width="1" stroke-linejoin="round" stroke-linecap="round" stroke-linecap="butt"/>
<text x="282" y="12.7" font-size="12.3" fill="#12129a" stroke="#12129a" stroke-width="0.12" textLength="146.5" lengthAdjust="spacingAndGlyphs" >wschód słońca: 07:45 CET</text>
<text x="284" y="25.6" font-size="12.3" fill="#12129a" stroke="#12129a" stroke-width="0.12" textLength="142" lengthAdjust="spacingAndGlyphs" >zachód słońca: 15:14 CET</text>
<text x="486.7" y="12.2" font-size="12.3" fill="#12129a" stroke="#12129a" stroke-width="0.12" textLength="128.1" lengthAdjust="spacingAndGlyphs" >21°31'16"E, 53°36'13"N</text>
<text x="509.4" y="24.5" font-size="12.3" fill="#12129a" stroke="#12129a" stroke-width="0.12" textLength="81.6" lengthAdjust="spacingAndGlyphs" >(x=258,  y=366)</text>
<text x="659.3" y="12.7" font-size="12.3" fill="#12129a" stroke="#12129a" stroke-width="0.12" textLength="158" lengthAdjust="spacingAndGlyphs" >wysokość (min, środek, max)</text>
<text x="690.5" y="25.3" font-size="12.3" fill="#12129a" stroke="#12129a" stroke-width="0.12" textLength="95.5" lengthAdjust="spacingAndGlyphs" >125 - 147 - 161 m</text>
<text x="349" y="41.6" font-size="13.3" fill="#000" stroke="#000" stroke-width="0.12" textLength="57.6" lengthAdjust="spacingAndGlyphs" >śro, 17.12</text>
<text x="515.2" y="41.7" font-size="13.3" fill="#000" stroke="#000" stroke-width="0.12" textLength="62.5" lengthAdjust="spacingAndGlyphs" >czw, 18.12</text>
<text x="687.2" y="41.7" font-size="13.3" fill="#000" stroke="#000" stroke-width="0.12" textLength="56" lengthAdjust="spacingAndGlyphs" >pią, 19.12</text>
<text x="306.6" y="54.9" font-size="13" fill="#000" stroke="#000" stroke-width="0.12" textLength="23.2" lengthAdjust="spacingAndGlyphs" >CET</text>
<text x="769.5" y="54" font-size="13" fill="#000" stroke="#000" stroke-width="0.12" textLength="24" lengthAdjust="spacingAndGlyphs" >CET</text>
<text x="356.4" y="54.8" font-size="13" fill="#000" stroke="#000" stroke-width="0.12" text-anchor="middle" textLength="13.6" lengthAdjust="spacingAndGlyphs" >10</text>
<text x="398.61" y="54.8" font-size="13" fill="#000" stroke="#000" stroke-width="0.12" text-anchor="middle" textLength="13.6" lengthAdjust="spacingAndGlyphs" >16</text>
<text x="440.82" y="54.8" font-size="13" fill="#000" stroke="#000" stroke-width="0.12" text-anchor="middle" textLength="13.6" lengthAdjust="spacingAndGlyphs" >22</text>
<text x="483.03" y="54.8" font-size="13" fill="#000" stroke="#000" stroke-width="0.12" text-anchor="middle" textLength="13.6" lengthAdjust="spacingAndGlyphs" >04</text>
<text x="525.24" y="54.8" font-size="13" fill="#000" stroke="#000" stroke-width="0.12" text-anchor="middle" textLength="13.6" lengthAdjust="spacingAndGlyphs" >10</text>
<text x="567.45" y="54.8" font-size="13" fill="#000" stroke="#000" stroke-width="0.12" text-anchor="middle" textLength="13.6" lengthAdjust="spacingAndGlyphs" >16</text>
<text x="609.66" y="54.8" font-size="13" fill="#000" stroke="#000" stroke-width="0.12" text-anchor="middle" textLength="13.6" lengthAdjust="spacingAndGlyphs" >22</text>
<text x="651.87" y="54.8" font-size="13" fill="#000" stroke="#000" stroke-width="0.12" text-anchor="middle" textLength="13.6" lengthAdjust="spacingAndGlyphs" >04</text>
<text x="694.08" y="54.8" font-size="13" fill="#000" stroke="#000" stroke-width="0.12" text-anchor="middle" textLength="13.6" lengthAdjust="spacingAndGlyphs" >10</text>
<text x="736.29" y="54.8" font-size="13" fill="#000" stroke="#000" stroke-width="0.12" text-anchor="middle" textLength="13.6" lengthAdjust="spacingAndGlyphs" >16</text>
<text x="356.4" y="616.7" font-size="13" fill="#000" stroke="#000" stroke-width="0.12" text-anchor="middle" textLength="13.6" lengthAdjust="spacingAndGlyphs" >09</text>
<text x="398.61" y="616.7" font-size="13" fill="#000" stroke="#000" stroke-width="0.12" text-anchor="middle" textLength="13.6" lengthAdjust="spacingAndGlyphs" >15</text>
<text x="440.82" y="616.7" font-size="13" fill="#000" stroke="#000" stroke-width="0.12" text-anchor="middle" textLength="13.6" lengthAdjust="spacingAndGlyphs" >21</text>
<text x="483.03" y="616.7" font-size="13" fill="#000" stroke="#000" stroke-width="0.12" text-anchor="middle" textLength="13.6" lengthAdjust="spacingAndGlyphs" >03</text>
<text x="525.24" y="616.7" font-size="13" fill="#000" stroke="#000" stroke-width="0.12" text-anchor="middle" textLength="13.6" lengthAdjust="spacingAndGlyphs" >09</text>
<text x="567.45" y="616.7" font-size="13" fill="#000" stroke="#000" stroke-width="0.12" text-anchor="middle" textLength="13.6" lengthAdjust="spacingAndGlyphs" >15</text>
<text x="609.66" y="616.7" font-size="13" fill="#000" stroke="#000" stroke-width="0.12" text-anchor="middle" textLength="13.6" lengthAdjust="spacingAndGlyphs" >21</text>
<text x="651.87" y="616.7" font-size="13" fill="#000" stroke="#000" stroke-width="0.12" text-anchor="middle" textLength="13.6" lengthAdjust="spacingAndGlyphs" >03</text>
<text x="694.08" y="616.7" font-size="13" fill="#000" stroke="#000" stroke-width="0.12" text-anchor="middle" textLength="13.6" lengthAdjust="spacingAndGlyphs" >09</text>
<text x="736.29" y="616.7" font-size="13" fill="#000" stroke="#000" stroke-width="0.12" text-anchor="middle" textLength="13.6" lengthAdjust="spacingAndGlyphs" >15</text>
<text x="378" y="629.5" font-size="13" fill="#000" stroke="#000" stroke-width="0.12" text-anchor="middle" textLength="30.8" lengthAdjust="spacingAndGlyphs" >17.12</text>
<text x="543" y="629.5" font-size="13" fill="#000" stroke="#000" stroke-width="0.12" text-anchor="middle" textLength="30.8" lengthAdjust="spacingAndGlyphs" >18.12</text>
<text x="714" y="629.5" font-size="13" fill="#000" stroke="#000" stroke-width="0.12" text-anchor="middle" textLength="30.8" lengthAdjust="spacingAndGlyphs" >19.12</text>
<text x="306.6" y="616.7" font-size="13" fill="#000" stroke="#000" stroke-width="0.12" textLength="23.4" lengthAdjust="spacingAndGlyphs" >UTC</text>
<text x="769" y="616.7" font-size="13" fill="#000" stroke="#000" stroke-width="0.12" textLength="24" lengthAdjust="spacingAndGlyphs" >UTC</text>
<text x="300.5" y="653" font-size="13" fill="#12129a" stroke="#12129a" stroke-width="0.12" textLength="108.5" lengthAdjust="spacingAndGlyphs" >meteo@icm.edu.pl</text>
<text x="553.6" y="653" font-size="13" fill="#12129a" stroke="#12129a" stroke-width="0.12" textLength="252" lengthAdjust="spacingAndGlyphs" >© 2007-2025 ICM, Uniwersytet Warszawski</text>
<text x="337.2" y="65.3" font-size="10.6" fill="#000" stroke="#000" stroke-width="0.3" text-anchor="end" >4</text>
<text x="337.2" y="81.9" font-size="10.6" fill="#000" stroke="#000" stroke-width="0.3" text-anchor="end" >2</text>
<text x="337.2" y="98.1" font-size="10.6" fill="#000" stroke="#000" stroke-width="0.3" text-anchor="end" >0</text>
<text x="337.2" y="114.7" font-size="10.6" fill="#000" stroke="#000" stroke-width="0.3" text-anchor="end" >-2</text>
<text x="337.2" y="131.7" font-size="10.6" fill="#000" stroke="#000" stroke-width="0.3" text-anchor="end" >-4</text>
<text x="338.2" y="151" font-size="10.6" fill="#000" stroke="#000" stroke-width="0.3" text-anchor="end" >5</text>
<text x="338.2" y="166.4" font-size="10.6" fill="#000" stroke="#000" stroke-width="0.3" text-anchor="end" >4</text>
<text x="338.2" y="181.5" font-size="10.6" fill="#000" stroke="#000" stroke-width="0.3" text-anchor="end" >3</text>
<text x="338.2" y="196.4" font-size="10.6" fill="#000" stroke="#000" stroke-width="0.3" text-anchor="end" >2</text>
<text x="338.2" y="211.3" font-size="10.6" fill="#000" stroke="#000" stroke-width="0.3" text-anchor="end" >1</text>
<text x="338.2" y="225.5" font-size="10.6" fill="#000" stroke="#000" stroke-width="0.3" text-anchor="end" >0</text>
<text x="338.5" y="251.5" font-size="10.6" fill="#000" stroke="#000" stroke-width="0.3" text-anchor="end" >1025</text>
<text x="338.5" y="271.2" font-size="10.6" fill="#000" stroke="#000" stroke-width="0.3" text-anchor="end" >1020</text>
<text x="338.5" y="291.4" font-size="10.6" fill="#000" stroke="#000" stroke-width="0.3" text-anchor="end" >1015</text>
<text x="338.5" y="311.9" font-size="10.6" fill="#000" stroke="#000" stroke-width="0.3" text-anchor="end" >1010</text>
<text x="338.5" y="322.9" font-size="10.6" fill="#000" stroke="#000" stroke-width="0.3" text-anchor="end" >15</text>
<text x="338.5" y="348.3" font-size="10.6" fill="#000" stroke="#000" stroke-width="0.3" text-anchor="end" >10</text>
<text x="338.5" y="373.8" font-size="10.6" fill="#000" stroke="#000" stroke-width="0.3" text-anchor="end" >5</text>
<text x="338.5" y="399.3" font-size="10.6" fill="#000" stroke="#000" stroke-width="0.3" text-anchor="end" >0</text>
<text x="338.3" y="442.9" font-size="10.6" fill="#000" stroke="#000" stroke-width="0.3" text-anchor="end" >15.0</text>
<text x="338.3" y="461.5" font-size="10.6" fill="#000" stroke="#000" stroke-width="0.3" text-anchor="end" >7.0</text>
<text x="338.3" y="481.1" font-size="10.6" fill="#000" stroke="#000" stroke-width="0.3" text-anchor="end" >2.0</text>
<text x="338.3" y="501" font-size="10.6" fill="#000" stroke="#000" stroke-width="0.3" text-anchor="end" >0.5</text>
<text x="338.3" y="520.5" font-size="10.6" fill="#000" stroke="#000" stroke-width="0.3" text-anchor="end" >0.0</text>
<text x="337.2" y="530.3" font-size="10.6" fill="#000" stroke="#000" stroke-width="0.3" text-anchor="end" >8</text>
<text x="337.2" y="549.4" font-size="10.6" fill="#000" stroke="#000" stroke-width="0.3" text-anchor="end" >6</text>
<text x="337.2" y="568.7" font-size="10.6" fill="#000" stroke="#000" stroke-width="0.3" text-anchor="end" >4</text>
<text x="337.2" y="587.9" font-size="10.6" fill="#000" stroke="#000" stroke-width="0.3" text-anchor="end" >2</text>
<text x="337.2" y="608" font-size="10.6" fill="#000" stroke="#000" stroke-width="0.3" text-anchor="end" >0</text>
<text x="770.2" y="65.3" font-size="10.6" fill="#000" stroke="#000" stroke-width="0.3" text-anchor="end" >4</text>
<text x="770.2" y="81.9" font-size="10.6" fill="#000" stroke="#000" stroke-width="0.3" text-anchor="end" >2</text>
<text x="770.2" y="98.1" font-size="10.6" fill="#000" stroke="#000" stroke-width="0.3" text-anchor="end" >0</text>
<text x="770.2" y="114.7" font-size="10.6" fill="#000" stroke="#000" stroke-width="0.3" text-anchor="end" >-2</text>
<text x="770.2" y="131.7" font-size="10.6" fill="#000" stroke="#000" stroke-width="0.3" text-anchor="end" >-4</text>
<text x="779.5" y="150.5" font-size="10.6" fill="#e8561e" stroke="#e8561e" stroke-width="0.3" text-anchor="end" >100</text>
<text x="779.5" y="165.4" font-size="10.6" fill="#e8561e" stroke="#e8561e" stroke-width="0.3" text-anchor="end" >95</text>
<text x="779.5" y="180.5" font-size="10.6" fill="#e8561e" stroke="#e8561e" stroke-width="0.3" text-anchor="end" >90</text>
<text x="779.5" y="195.2" font-size="10.6" fill="#e8561e" stroke="#e8561e" stroke-width="0.3" text-anchor="end" >85</text>
<text x="779.5" y="210" font-size="10.6" fill="#e8561e" stroke="#e8561e" stroke-width="0.3" text-anchor="end" >80</text>
<text x="779.5" y="225.2" font-size="10.6" fill="#e8561e" stroke="#e8561e" stroke-width="0.3" text-anchor="end" >75</text>
<text x="761.9" y="251" font-size="10.6" fill="#000" stroke="#000" stroke-width="0.3" >769</text>
<text x="761.9" y="271.6" font-size="10.6" fill="#000" stroke="#000" stroke-width="0.3" >765</text>
<text x="761.9" y="291.9" font-size="10.6" fill="#000" stroke="#000" stroke-width="0.3" >761</text>
<text x="761.9" y="312.8" font-size="10.6" fill="#000" stroke="#000" stroke-width="0.3" >758</text>
<text x="767.5" y="322.9" font-size="10.6" fill="#000" stroke="#000" stroke-width="0.3" text-anchor="middle" >54</text>
<text x="767.5" y="347.8" font-size="10.6" fill="#000" stroke="#000" stroke-width="0.3" text-anchor="middle" >36</text>
<text x="767.5" y="373.7" font-size="10.6" fill="#000" stroke="#000" stroke-width="0.3" text-anchor="middle" >18</text>
<text x="767.5" y="398.3" font-size="10.6" fill="#000" stroke="#000" stroke-width="0.3" text-anchor="middle" >0</text>
<text x="761" y="442" font-size="10.6" fill="#ff8c00" stroke="#ff8c00" stroke-width="0.3" >100</text>
<text x="761" y="462" font-size="10.6" fill="#ff8c00" stroke="#ff8c00" stroke-width="0.3" >20</text>
<text x="761" y="481" font-size="10.6" fill="#ff8c00" stroke="#ff8c00" stroke-width="0.3" >5</text>
<text x="761" y="500.4" font-size="10.6" fill="#ff8c00" stroke="#ff8c00" stroke-width="0.3" >1</text>
<text x="761" y="519.9" font-size="10.6" fill="#ff8c00" stroke="#ff8c00" stroke-width="0.3" >0</text>
<text x="761" y="529.9" font-size="10.6" fill="#ff8c00" stroke="#ff8c00" stroke-width="0.3" >1</text>
<text x="761" y="548.9" font-size="10.6" fill="#ff8c00" stroke="#ff8c00" stroke-width="0.3" >0.75</text>
<text x="761" y="568.2" font-size="10.6" fill="#ff8c00" stroke="#ff8c00" stroke-width="0.3" >0.5</text>
<text x="761" y="587.7" font-size="10.6" fill="#ff8c00" stroke="#ff8c00" stroke-width="0.3" >0.25</text>
<text x="761" y="607.3" font-size="10.6" fill="#ff8c00" stroke="#ff8c00" stroke-width="0.3" >0</text>
<text transform="translate(293.2,96.5) rotate(-90)" x="0" y="0" font-size="12.4" fill="#12129a" stroke="#12129a" stroke-width="0.12" text-anchor="middle" textLength="66" lengthAdjust="spacingAndGlyphs">temperatura</text>
<text transform="translate(305.3,97.1) rotate(-90)" x="0" y="0" font-size="12.4" fill="#12129a" stroke="#12129a" stroke-width="0.12" text-anchor="middle">(°C)</text>
<text transform="translate(293.4,185.5) rotate(-90)" x="0" y="0" font-size="12.4" fill="#12129a" stroke="#12129a" stroke-width="0.12" text-anchor="middle">opad</text>
<text transform="translate(305.5,185) rotate(-90)" x="0" y="0" font-size="12.4" fill="#12129a" stroke="#12129a" stroke-width="0.12" text-anchor="middle" textLength="84.5" lengthAdjust="spacingAndGlyphs">(mm/h, kg/m²/h)</text>
<text transform="translate(293.4,273) rotate(-90)" x="0" y="0" font-size="12.4" fill="#12129a" stroke="#12129a" stroke-width="0.12" text-anchor="middle" textLength="47.3" lengthAdjust="spacingAndGlyphs">ciśnienie</text>
<text transform="translate(305.4,273) rotate(-90)" x="0" y="0" font-size="12.4" fill="#12129a" stroke="#12129a" stroke-width="0.12" text-anchor="middle">(hPa)</text>
<text transform="translate(293.4,359.4) rotate(-90)" x="0" y="0" font-size="12.4" fill="#12129a" stroke="#12129a" stroke-width="0.12" text-anchor="middle">wiatr</text>
<text transform="translate(305.4,361) rotate(-90)" x="0" y="0" font-size="12.4" fill="#12129a" stroke="#12129a" stroke-width="0.12" text-anchor="middle">(m/s)</text>
<text transform="translate(293.4,475) rotate(-90)" x="0" y="0" font-size="12.4" fill="#12129a" stroke="#12129a" stroke-width="0.12" text-anchor="middle" textLength="103" lengthAdjust="spacingAndGlyphs">pion. rozciągł. chm.</text>
<text transform="translate(305.4,474) rotate(-90)" x="0" y="0" font-size="12.4" fill="#12129a" stroke="#12129a" stroke-width="0.12" text-anchor="middle">(km)</text>
<text transform="translate(293.4,572.5) rotate(-90)" x="0" y="0" font-size="12.4" fill="#12129a" stroke="#12129a" stroke-width="0.12" text-anchor="middle" textLength="75" lengthAdjust="spacingAndGlyphs">zachmurzenie</text>
<text transform="translate(305.4,563.3) rotate(-90)" x="0" y="0" font-size="12.4" fill="#12129a" stroke="#12129a" stroke-width="0.12" text-anchor="middle">(oktanty)</text>
<text x="283.8" y="419.7" font-size="12" fill="#12129a" stroke="#12129a" stroke-width="0.12" textLength="11.2" lengthAdjust="spacingAndGlyphs" >W</text>
<text x="295" y="410.7" font-size="10.6" fill="#12129a" stroke="#12129a" stroke-width="0.3" textLength="6.9" lengthAdjust="spacingAndGlyphs" >N</text>
<text x="302.1" y="419.7" font-size="10.6" fill="#12129a" stroke="#12129a" stroke-width="0.3" textLength="5.9" lengthAdjust="spacingAndGlyphs" >E</text>
<text x="295" y="427.4" font-size="10.6" fill="#12129a" stroke="#12129a" stroke-width="0.3" textLength="6.3" lengthAdjust="spacingAndGlyphs" >S</text>
<text transform="translate(802,97.1) rotate(-90)" x="0" y="0" font-size="12.4" fill="#12129a" stroke="#12129a" stroke-width="0.12" text-anchor="middle">(°C)</text>
<text transform="translate(817,96.2) rotate(-90)" x="0" y="0" font-size="12.4" fill="#12129a" stroke="#12129a" stroke-width="0.12" text-anchor="middle" textLength="65.4" lengthAdjust="spacingAndGlyphs">temperatura</text>
<text transform="translate(802,185.6) rotate(-90)" x="0" y="0" font-size="12.4" fill="#12129a" stroke="#12129a" stroke-width="0.12" text-anchor="middle">(%)</text>
<text transform="translate(817,185.7) rotate(-90)" x="0" y="0" font-size="12.4" fill="#12129a" stroke="#12129a" stroke-width="0.12" text-anchor="middle" textLength="88.6" lengthAdjust="spacingAndGlyphs">wilgotność wzgl.</text>
<text transform="translate(802,273) rotate(-90)" x="0" y="0" font-size="12.4" fill="#12129a" stroke="#12129a" stroke-width="0.12" text-anchor="middle" textLength="48.5" lengthAdjust="spacingAndGlyphs">(mm Hg)</text>
<text transform="translate(817,272.3) rotate(-90)" x="0" y="0" font-size="12.4" fill="#12129a" stroke="#12129a" stroke-width="0.12" text-anchor="middle" textLength="47" lengthAdjust="spacingAndGlyphs">ciśnienie</text>
<text transform="translate(802,361) rotate(-90)" x="0" y="0" font-size="12.4" fill="#12129a" stroke="#12129a" stroke-width="0.12" text-anchor="middle" textLength="33.4" lengthAdjust="spacingAndGlyphs">(km/h)</text>
<text transform="translate(817,361) rotate(-90)" x="0" y="0" font-size="12.4" fill="#12129a" stroke="#12129a" stroke-width="0.12" text-anchor="middle">wiatr</text>
<text transform="translate(802,473.3) rotate(-90)" x="0" y="0" font-size="12.4" fill="#12129a" stroke="#12129a" stroke-width="0.12" text-anchor="middle">(km)</text>
<text transform="translate(817,474.2) rotate(-90)" x="0" y="0" font-size="12.4" fill="#12129a" stroke="#12129a" stroke-width="0.12" text-anchor="middle" textLength="65" lengthAdjust="spacingAndGlyphs">widzialność</text>
<text transform="translate(802,562.5) rotate(-90)" x="0" y="0" font-size="12.4" fill="#12129a" stroke="#12129a" stroke-width="0.12" text-anchor="middle" textLength="41.5" lengthAdjust="spacingAndGlyphs">(frakcja)</text>
<text transform="translate(817,562.5) rotate(-90)" x="0" y="0" font-size="12.4" fill="#12129a" stroke="#12129a" stroke-width="0.12" text-anchor="middle" textLength="28" lengthAdjust="spacingAndGlyphs">mgła</text>
<text x="793" y="419.7" font-size="12" fill="#12129a" stroke="#12129a" stroke-width="0.12" textLength="10.8" lengthAdjust="spacingAndGlyphs" >W</text>
<text x="803.8" y="410.7" font-size="10.6" fill="#12129a" stroke="#12129a" stroke-width="0.3" textLength="7.2" lengthAdjust="spacingAndGlyphs" >N</text>
<text x="811" y="419.7" font-size="10.6" fill="#12129a" stroke="#12129a" stroke-width="0.3" textLength="6.1" lengthAdjust="spacingAndGlyphs" >E</text>
<text x="803.8" y="427.7" font-size="10.6" fill="#12129a" stroke="#12129a" stroke-width="0.3" textLength="6.2" lengthAdjust="spacingAndGlyphs" >S</text>
<text x="6" y="18.7" font-size="10.4" fill="#000" stroke="#000" stroke-width="0.3" textLength="59" lengthAdjust="spacing" >Czas lokalny</text>
<text x="6" y="29.4" font-size="10.2" fill="#000" stroke="#000" stroke-width="0.3" textLength="54.6" lengthAdjust="spacingAndGlyphs" >(CET/CEST)</text>
<text x="6" y="46.6" font-size="10.4" fill="#b22222" stroke="#b22222" stroke-width="0.3" textLength="93" lengthAdjust="spacing" >Temperatura gruntu</text>
<text x="27.3" y="56.3" font-size="10.4" fill="#b22222" stroke="#b22222" stroke-width="0.3" textLength="38.9" lengthAdjust="spacing" >max/min</text>
<text x="6" y="68" font-size="10.4" fill="#000" stroke="#000" stroke-width="0.3" textLength="61.4" lengthAdjust="spacing" >Temperatura:</text>
<text x="12.8" y="80.4" font-size="10.4" fill="#ff0000" stroke="#ff0000" stroke-width="0.3" textLength="76.8" lengthAdjust="spacing" >punkt środkowy</text>
<text x="27.7" y="90.2" font-size="10.4" fill="#ffc8b8" stroke="#ffc8b8" stroke-width="0.3" textLength="38.5" lengthAdjust="spacing" >max/min</text>
<text x="9.9" y="101.8" font-size="10.4" fill="#0000ff" stroke="#0000ff" stroke-width="0.3" textLength="57" lengthAdjust="spacing" >odczuwana</text>
<text x="27.7" y="112" font-size="10.4" fill="#a8dcff" stroke="#a8dcff" stroke-width="0.3" textLength="38.5" lengthAdjust="spacing" >max/min</text>
<text x="6.5" y="124" font-size="10.4" fill="#6a5acd" stroke="#6a5acd" stroke-width="0.3" textLength="86.5" lengthAdjust="spacing" >Temp. punktu rosy</text>
<text x="6.1" y="141.3" font-size="10.4" fill="#ff0000" stroke="#ff0000" stroke-width="0.3" textLength="94.1" lengthAdjust="spacing" >Opad powyżej skali</text>
<text x="6.1" y="154.3" font-size="10.4" fill="#e8501c" stroke="#e8501c" stroke-width="0.3" textLength="96.8" lengthAdjust="spacing" >Wilgotność względna</text>
<text x="6.1" y="168.3" font-size="10.4" fill="#000" stroke="#000" stroke-width="0.3" textLength="84.6" lengthAdjust="spacing" >Wystąpienie burzy</text>
<text x="6.1" y="182.8" font-size="10.4" fill="#10b010" stroke="#10b010" stroke-width="0.3" textLength="40.1" lengthAdjust="spacing" >Deszcz:</text>
<text x="49.7" y="182.8" font-size="10.4" fill="#10b010" stroke="#10b010" stroke-width="0.3" textLength="19.2" lengthAdjust="spacing" >max</text>
<text x="48.8" y="193.2" font-size="10.4" fill="#10b010" stroke="#10b010" stroke-width="0.3" textLength="29.7" lengthAdjust="spacing" >średni</text>
<text x="6.1" y="205.4" font-size="10.4" fill="#2040d0" stroke="#2040d0" stroke-width="0.3" textLength="29.6" lengthAdjust="spacing" >Śnieg:</text>
<text x="48.8" y="205.4" font-size="10.4" fill="#2040d0" stroke="#2040d0" stroke-width="0.3" textLength="19.2" lengthAdjust="spacing" >max</text>
<text x="48.8" y="215.9" font-size="10.4" fill="#2040d0" stroke="#2040d0" stroke-width="0.3" textLength="29.7" lengthAdjust="spacing" >średni</text>
<text x="5.2" y="228.4" font-size="10.4" fill="#ff0000" stroke="#ff0000" stroke-width="0.3" textLength="88.9" lengthAdjust="spacing" >Wystąpienie opadu</text>
<text x="6.1" y="240.6" font-size="10.4" fill="#ff0000" stroke="#ff0000" stroke-width="0.3" textLength="70.6" lengthAdjust="spacing" >konwekcyjnego</text>
<text x="4.3" y="267.2" font-size="10.4" fill="#000" stroke="#000" stroke-width="0.3" textLength="42.7" lengthAdjust="spacing" >Ciśnienie</text>
<text x="4.3" y="280.6" font-size="10.4" fill="#000" stroke="#000" stroke-width="0.3" textLength="66.6" lengthAdjust="spacing" >zredukowane</text>
<text x="4.3" y="293.4" font-size="10.4" fill="#000" stroke="#000" stroke-width="0.3" textLength="87.9" lengthAdjust="spacing" >do poziomu morza</text>
<text x="5.1" y="322.4" font-size="10.4" fill="#000" stroke="#000" stroke-width="0.3" textLength="65.8" lengthAdjust="spacing" >Wiatr na 10m:</text>
<text x="9.4" y="338.2" font-size="10.4" fill="#ff0000" stroke="#ff0000" stroke-width="0.3" textLength="101.6" lengthAdjust="spacing" >poryw powyżej skali</text>
<text x="9.4" y="352.2" font-size="10.4" fill="#ff0000" stroke="#ff0000" stroke-width="0.3" textLength="94.7" lengthAdjust="spacing" >max porywy wiatru</text>
<text x="9.4" y="372" font-size="10.4" fill="#101090" stroke="#101090" stroke-width="0.3" textLength="79" lengthAdjust="spacing" >prędkość wiatru</text>
<text x="9.4" y="385.2" font-size="10.4" fill="#101090" stroke="#101090" stroke-width="0.3" textLength="89.3" lengthAdjust="spacing" >w środku obszaru</text>
<text x="9.8" y="413.2" font-size="10.4" fill="#101090" stroke="#101090" stroke-width="0.3" textLength="73.7" lengthAdjust="spacing" >kierunek wiatru</text>
<text x="5.7" y="433.7" font-size="10.4" fill="#b22222" stroke="#b22222" stroke-width="0.3" textLength="90.5" lengthAdjust="spacing" >Wierzchołek chmur</text>
<text x="5.7" y="448.6" font-size="10.4" fill="#000" stroke="#000" stroke-width="0.3" textLength="85.3" lengthAdjust="spacing" >Podstawa chmur*</text>
<text x="5.7" y="459.2" font-size="10.4" fill="#000" stroke="#000" stroke-width="0.3" textLength="47.5" lengthAdjust="spacing" >o pokryciu</text>
<text x="10.2" y="472.5" font-size="10.4" fill="#000" stroke="#000" stroke-width="0.3" textLength="44.6" lengthAdjust="spacing" >&gt; 7.9 okt.</text>
<text x="10.2" y="482.8" font-size="10.4" fill="#505050" stroke="#505050" stroke-width="0.3" textLength="44.6" lengthAdjust="spacing" >&gt; 6.5 okt.</text>
<text x="10.2" y="494" font-size="10.4" fill="#a0a0a0" stroke="#a0a0a0" stroke-width="0.3" textLength="44.6" lengthAdjust="spacing" >&gt; 4.5 okt.</text>
<text x="10.2" y="504.3" font-size="10.4" fill="#d8d8d8" stroke="#d8d8d8" stroke-width="0.3" textLength="44.6" lengthAdjust="spacing" >&gt; 2.5 okt.</text>
<rect x="10.6" y="505.5" width="44.2" height="11.3" fill="#87cefa" />
<text x="10.2" y="514.9" font-size="10.4" fill="#ffffff" stroke="#ffffff" stroke-width="0.3" textLength="44.6" lengthAdjust="spacing" >&gt; 0.1 okt.</text>
<text x="5.7" y="529.8" font-size="10.4" fill="#ff8c00" stroke="#ff8c00" stroke-width="0.3" textLength="56.7" lengthAdjust="spacing" >Widzialność</text>
<text x="5.7" y="547.4" font-size="10.4" fill="#000" stroke="#000" stroke-width="0.3" textLength="38.3" lengthAdjust="spacing" >Chmury:</text>
<rect x="10.2" y="551.7" width="40.6" height="10.9" fill="#87cefa" />
<text x="10.6" y="560.7" font-size="10.4" fill="#ffffff" stroke="#ffffff" stroke-width="0.3" textLength="39.5" lengthAdjust="spacing" >wysokie</text>
<text x="9.8" y="573.6" font-size="10.4" fill="#a0a0a0" stroke="#a0a0a0" stroke-width="0.3" textLength="35.2" lengthAdjust="spacing" >średnie</text>
<text x="9.8" y="585.3" font-size="10.4" fill="#404040" stroke="#404040" stroke-width="0.3" textLength="26.6" lengthAdjust="spacing" >niskie</text>
<text x="9.8" y="596.9" font-size="10.4" fill="#202020" stroke="#202020" stroke-width="0.3" textLength="60.8" lengthAdjust="spacing" >bardzo niskie</text>
<text x="5.7" y="609.2" font-size="10.4" fill="#f0b000" stroke="#f0b000" stroke-width="0.3" textLength="20.5" lengthAdjust="spacing" >Mgła</text>
<text x="5.7" y="626" font-size="10.9" fill="#000" stroke="#000" stroke-width="0.3" textLength="131" lengthAdjust="spacing" >Czas uniwersalny (UTC)</text>
<text x="5.7" y="651" font-size="9.2" fill="#000" stroke="#000" stroke-width="0" textLength="101.7" lengthAdjust="spacingAndGlyphs" font-weight="bold" >* powyżej poziomu morza</text>
<text x="128.1" y="62.9" font-size="10.6" fill="#000" stroke="#000" stroke-width="0.3" text-anchor="end" >30</text>
<text x="128.1" y="80.7" font-size="10.6" fill="#000" stroke="#000" stroke-width="0.3" text-anchor="end" >20</text>
<text x="128.1" y="97.7" font-size="10.6" fill="#000" stroke="#000" stroke-width="0.3" text-anchor="end" >10</text>
<text x="128.1" y="115.2" font-size="10.6" fill="#000" stroke="#000" stroke-width="0.3" text-anchor="end" >0</text>
<text x="128.1" y="132.7" font-size="10.6" fill="#000" stroke="#000" stroke-width="0.3" text-anchor="end" >-10</text>
<text x="128.1" y="153.7" font-size="10.6" fill="#000" stroke="#000" stroke-width="0.3" text-anchor="end" >2.0</text>
<text x="128.1" y="171.7" font-size="10.6" fill="#000" stroke="#000" stroke-width="0.3" text-anchor="end" >1.5</text>
<text x="128.1" y="188.7" font-size="10.6" fill="#000" stroke="#000" stroke-width="0.3" text-anchor="end" >1.0</text>
<text x="128.1" y="206.7" font-size="10.6" fill="#000" stroke="#000" stroke-width="0.3" text-anchor="end" >0.5</text>
<text x="128.1" y="223.7" font-size="10.6" fill="#000" stroke="#000" stroke-width="0.3" text-anchor="end" >0.0</text>
<text x="128.1" y="234.8" font-size="10.6" fill="#000" stroke="#000" stroke-width="0.3" text-anchor="end" >1018</text>
<text x="128.1" y="257.8" font-size="10.6" fill="#000" stroke="#000" stroke-width="0.3" text-anchor="end" >1016</text>
<text x="128.1" y="281.7" font-size="10.6" fill="#000" stroke="#000" stroke-width="0.3" text-anchor="end" >1014</text>
<text x="128.1" y="304.8" font-size="10.6" fill="#000" stroke="#000" stroke-width="0.3" text-anchor="end" >1012</text>
<text x="128.1" y="318.5" font-size="10.6" fill="#000" stroke="#000" stroke-width="0.3" text-anchor="end" >20</text>
<text x="128.1" y="337.9" font-size="10.6" fill="#000" stroke="#000" stroke-width="0.3" text-anchor="end" >15</text>
<text x="128.1" y="357.3" font-size="10.6" fill="#000" stroke="#000" stroke-width="0.3" text-anchor="end" >10</text>
<text x="128.1" y="376.7" font-size="10.6" fill="#000" stroke="#000" stroke-width="0.3" text-anchor="end" >5</text>
<text x="128.1" y="395.7" font-size="10.6" fill="#000" stroke="#000" stroke-width="0.3" text-anchor="end" >0</text>
<text x="128.1" y="440.2" font-size="10.6" fill="#000" stroke="#000" stroke-width="0.3" text-anchor="end" >15.0</text>
<text x="128.1" y="459.7" font-size="10.6" fill="#000" stroke="#000" stroke-width="0.3" text-anchor="end" >7.0</text>
<text x="128.1" y="479.1" font-size="10.6" fill="#000" stroke="#000" stroke-width="0.3" text-anchor="end" >2.0</text>
<text x="128.1" y="499" font-size="10.6" fill="#000" stroke="#000" stroke-width="0.3" text-anchor="end" >0.5</text>
<text x="128.1" y="517.8" font-size="10.6" fill="#000" stroke="#000" stroke-width="0.3" text-anchor="end" >0.0</text>
<text x="128.1" y="526.6" font-size="10.6" fill="#000" stroke="#000" stroke-width="0.3" text-anchor="end" >8</text>
<text x="128.1" y="546.9" font-size="10.6" fill="#000" stroke="#000" stroke-width="0.3" text-anchor="end" >6</text>
<text x="128.1" y="566.2" font-size="10.6" fill="#000" stroke="#000" stroke-width="0.3" text-anchor="end" >4</text>
<text x="128.1" y="586" font-size="10.6" fill="#000" stroke="#000" stroke-width="0.3" text-anchor="end" >2</text>
<text x="128.1" y="605.1" font-size="10.6" fill="#000" stroke="#000" stroke-width="0.3" text-anchor="end" >0</text>
<text x="266.5" y="63.2" font-size="10.6" fill="#000" stroke="#000" stroke-width="0.3" text-anchor="end" >30</text>
<text x="266.5" y="81" font-size="10.6" fill="#000" stroke="#000" stroke-width="0.3" text-anchor="end" >20</text>
<text x="266.5" y="97.5" font-size="10.6" fill="#000" stroke="#000" stroke-width="0.3" text-anchor="end" >10</text>
<text x="266.5" y="115.1" font-size="10.6" fill="#000" stroke="#000" stroke-width="0.3" text-anchor="end" >0</text>
<text x="266.5" y="132.8" font-size="10.6" fill="#000" stroke="#000" stroke-width="0.3" text-anchor="end" >-10</text>
<text x="253.6" y="154" font-size="10.6" fill="#e8561e" stroke="#e8561e" stroke-width="0.3" >96</text>
<text x="253.6" y="171.7" font-size="10.6" fill="#e8561e" stroke="#e8561e" stroke-width="0.3" >84</text>
<text x="253.6" y="188.9" font-size="10.6" fill="#e8561e" stroke="#e8561e" stroke-width="0.3" >73</text>
<text x="253.6" y="206.6" font-size="10.6" fill="#e8561e" stroke="#e8561e" stroke-width="0.3" >61</text>
<text x="253.6" y="223.7" font-size="10.6" fill="#e8561e" stroke="#e8561e" stroke-width="0.3" >50</text>
<text x="251.4" y="234.6" font-size="10.6" fill="#000" stroke="#000" stroke-width="0.3" >1018</text>
<text x="251.4" y="258" font-size="10.6" fill="#000" stroke="#000" stroke-width="0.3" >1016</text>
<text x="251.4" y="281.7" font-size="10.6" fill="#000" stroke="#000" stroke-width="0.3" >1014</text>
<text x="251.4" y="304.9" font-size="10.6" fill="#000" stroke="#000" stroke-width="0.3" >1012</text>
<text x="257.3" y="318.8" font-size="10.6" fill="#000" stroke="#000" stroke-width="0.3" text-anchor="middle" >72</text>
<text x="257.3" y="337.9" font-size="10.6" fill="#000" stroke="#000" stroke-width="0.3" text-anchor="middle" >54</text>
<text x="257.3" y="357.7" font-size="10.6" fill="#000" stroke="#000" stroke-width="0.3" text-anchor="middle" >36</text>
<text x="257.3" y="376.4" font-size="10.6" fill="#000" stroke="#000" stroke-width="0.3" text-anchor="middle" >18</text>
<text x="257.3" y="395.7" font-size="10.6" fill="#000" stroke="#000" stroke-width="0.3" text-anchor="middle" >0</text>
<text x="252.5" y="440.1" font-size="10.6" fill="#ff8c00" stroke="#ff8c00" stroke-width="0.3" >100</text>
<text x="252.5" y="460.4" font-size="10.6" fill="#ff8c00" stroke="#ff8c00" stroke-width="0.3" >20</text>
<text x="252.5" y="478.7" font-size="10.6" fill="#ff8c00" stroke="#ff8c00" stroke-width="0.3" >5</text>
<text x="252.5" y="498.5" font-size="10.6" fill="#ff8c00" stroke="#ff8c00" stroke-width="0.3" >1</text>
<text x="252.5" y="517.2" font-size="10.6" fill="#ff8c00" stroke="#ff8c00" stroke-width="0.3" >0</text>
<text x="252.3" y="526.6" font-size="10.6" fill="#ff8c00" stroke="#ff8c00" stroke-width="0.3" >1</text>
<text x="252.3" y="546.9" font-size="10.6" fill="#ff8c00" stroke="#ff8c00" stroke-width="0.3" >0.75</text>
<text x="252.3" y="566.3" font-size="10.6" fill="#ff8c00" stroke="#ff8c00" stroke-width="0.3" >0.5</text>
<text x="252.3" y="586.1" font-size="10.6" fill="#ff8c00" stroke="#ff8c00" stroke-width="0.3" >0.25</text>
<text x="252.3" y="605.1" font-size="10.6" fill="#ff8c00" stroke="#ff8c00" stroke-width="0.3" >0</text>
<text x="163.8" y="51.5" font-size="11.5" fill="#000" stroke="#000" stroke-width="0.3" text-anchor="middle" >20</text>
<text x="204" y="51.5" font-size="11.5" fill="#000" stroke="#000" stroke-width="0.3" text-anchor="middle" >02</text>
<text x="244.5" y="51.5" font-size="11.5" fill="#000" stroke="#000" stroke-width="0.3" text-anchor="middle" >08</text>
<text x="163.3" y="614.9" font-size="11.5" fill="#000" stroke="#000" stroke-width="0.3" text-anchor="middle" >18</text>
<text x="203.6" y="614.9" font-size="11.5" fill="#000" stroke="#000" stroke-width="0.3" text-anchor="middle" >00</text>
<text x="244.4" y="614.9" font-size="11.5" fill="#000" stroke="#000" stroke-width="0.3" text-anchor="middle" >06</text>
</svg></body></html>
